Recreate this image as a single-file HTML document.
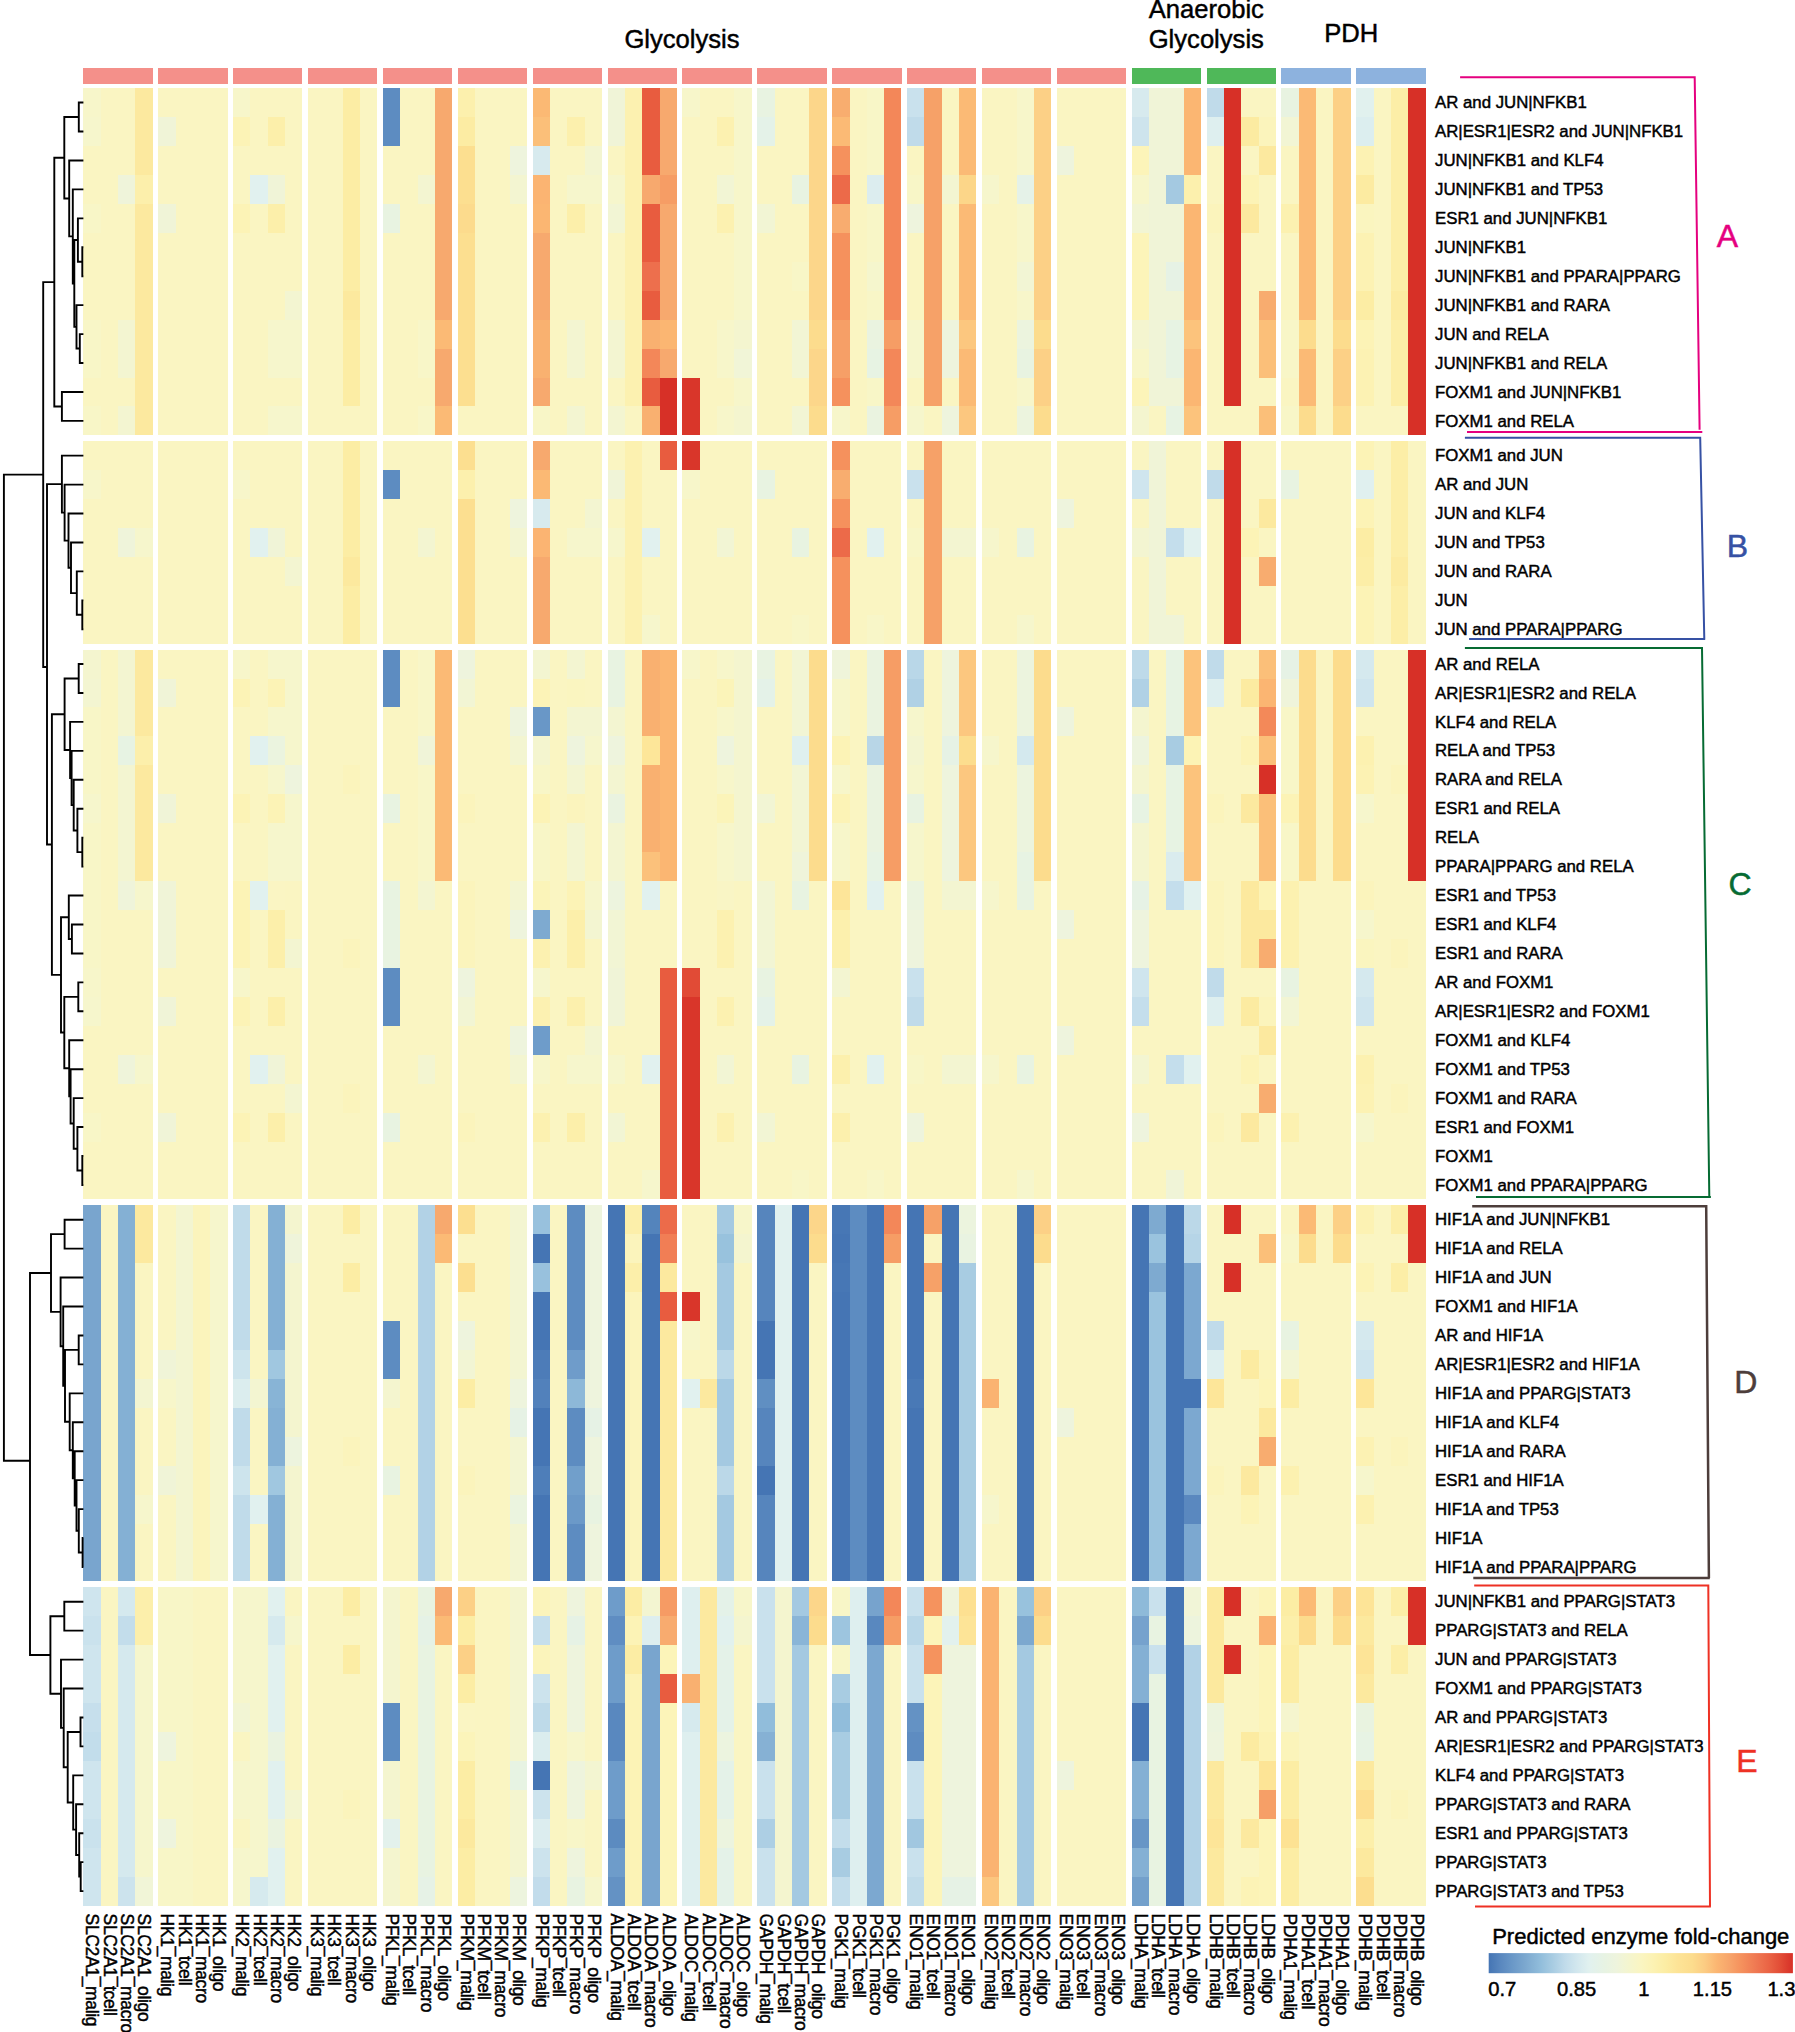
<!DOCTYPE html>
<html lang="en"><head><meta charset="utf-8"><title>Predicted enzyme fold-change heatmap</title>
<style>
html,body{margin:0;padding:0;background:#fff}
body{width:1795px;height:2032px;overflow:hidden}
svg{display:block;font-family:"Liberation Sans",Arial,Helvetica,sans-serif;fill:#000}
text{stroke:#000;stroke-width:0.45px;paint-order:stroke fill}
.cls text{stroke-width:0.5px}
.hm rect{shape-rendering:crispEdges}
.rl{font-size:16.8px}
.cl{font-size:17.5px;letter-spacing:-0.35px}
.tt{font-size:25.6px;text-anchor:middle}
.lg{font-size:20.2px}
.lt{font-size:22px}
.dg{fill:none;stroke:#000;stroke-width:1.9;stroke-linejoin:miter;stroke-linecap:butt}
.bk{fill:none;stroke-linejoin:miter}
.cls{font-size:32px;text-anchor:middle}
</style></head><body>
<svg width="1795" height="2032" viewBox="0 0 1795 2032">
<rect width="1795" height="2032" fill="#fff"/>
<text class="tt" x="682" y="47.6">Glycolysis</text>
<text class="tt" x="1206.3" y="17.8">Anaerobic</text>
<text class="tt" x="1206.3" y="47.9">Glycolysis</text>
<text class="tt" x="1351.3" y="42.3">PDH</text>
<g class="hm">
<rect x="83.4" y="68.4" width="69.3" height="15.4" fill="#f4908a"/>
<rect x="158.28" y="68.4" width="69.3" height="15.4" fill="#f4908a"/>
<rect x="233.16" y="68.4" width="69.3" height="15.4" fill="#f4908a"/>
<rect x="308.04" y="68.4" width="69.3" height="15.4" fill="#f4908a"/>
<rect x="382.92" y="68.4" width="69.3" height="15.4" fill="#f4908a"/>
<rect x="457.8" y="68.4" width="69.3" height="15.4" fill="#f4908a"/>
<rect x="532.68" y="68.4" width="69.3" height="15.4" fill="#f4908a"/>
<rect x="607.56" y="68.4" width="69.3" height="15.4" fill="#f4908a"/>
<rect x="682.44" y="68.4" width="69.3" height="15.4" fill="#f4908a"/>
<rect x="757.32" y="68.4" width="69.3" height="15.4" fill="#f4908a"/>
<rect x="832.2" y="68.4" width="69.3" height="15.4" fill="#f4908a"/>
<rect x="907.08" y="68.4" width="69.3" height="15.4" fill="#f4908a"/>
<rect x="981.96" y="68.4" width="69.3" height="15.4" fill="#f4908a"/>
<rect x="1056.84" y="68.4" width="69.3" height="15.4" fill="#f4908a"/>
<rect x="1131.72" y="68.4" width="69.3" height="15.4" fill="#4fb859"/>
<rect x="1206.6" y="68.4" width="69.3" height="15.4" fill="#4fb859"/>
<rect x="1281.48" y="68.4" width="69.3" height="15.4" fill="#8db2de"/>
<rect x="1356.36" y="68.4" width="69.3" height="15.4" fill="#8db2de"/>
<rect x="83.4" y="88.1" width="17.32" height="28.94" fill="#f7f6ca"/>
<rect x="83.4" y="117.04" width="17.32" height="28.94" fill="#f6f6cc"/>
<rect x="83.4" y="145.98" width="17.32" height="57.88" fill="#faf5c2"/>
<rect x="83.4" y="203.86" width="17.32" height="28.94" fill="#f8f6c7"/>
<rect x="83.4" y="232.8" width="17.32" height="86.82" fill="#faf5c2"/>
<rect x="83.4" y="319.62" width="17.32" height="57.88" fill="#f8f6c7"/>
<rect x="83.4" y="377.5" width="17.32" height="28.94" fill="#faf5c2"/>
<rect x="83.4" y="406.44" width="17.32" height="28.94" fill="#f8f6c7"/>
<rect x="100.73" y="88.1" width="17.32" height="347.28" fill="#faf5c2"/>
<rect x="118.05" y="88.1" width="17.32" height="86.82" fill="#faf5c2"/>
<rect x="118.05" y="174.92" width="17.32" height="28.94" fill="#eff4da"/>
<rect x="118.05" y="203.86" width="17.32" height="115.76" fill="#faf5c2"/>
<rect x="118.05" y="319.62" width="17.32" height="57.88" fill="#f3f5d1"/>
<rect x="118.05" y="377.5" width="17.32" height="28.94" fill="#faf5c2"/>
<rect x="118.05" y="406.44" width="17.32" height="28.94" fill="#f3f5d1"/>
<rect x="135.38" y="88.1" width="17.32" height="86.82" fill="#fce99f"/>
<rect x="135.38" y="174.92" width="17.32" height="28.94" fill="#fcefab"/>
<rect x="135.38" y="203.86" width="17.32" height="231.52" fill="#fce99f"/>
<rect x="158.28" y="88.1" width="17.32" height="28.94" fill="#faf5c2"/>
<rect x="158.28" y="117.04" width="17.32" height="28.94" fill="#f0f4d7"/>
<rect x="158.28" y="145.98" width="17.32" height="57.88" fill="#faf5c2"/>
<rect x="158.28" y="203.86" width="17.32" height="28.94" fill="#f0f4d7"/>
<rect x="158.28" y="232.8" width="17.32" height="202.58" fill="#faf5c2"/>
<rect x="175.6" y="88.1" width="17.32" height="347.28" fill="#faf5c2"/>
<rect x="192.93" y="88.1" width="17.32" height="347.28" fill="#faf5c2"/>
<rect x="210.25" y="88.1" width="17.32" height="347.28" fill="#faf5c2"/>
<rect x="233.16" y="88.1" width="17.32" height="28.94" fill="#f7f6ca"/>
<rect x="233.16" y="117.04" width="17.32" height="28.94" fill="#fcf3b6"/>
<rect x="233.16" y="145.98" width="17.32" height="57.88" fill="#faf5c2"/>
<rect x="233.16" y="203.86" width="17.32" height="28.94" fill="#fcf3b6"/>
<rect x="233.16" y="232.8" width="17.32" height="202.58" fill="#faf5c2"/>
<rect x="250.48" y="88.1" width="17.32" height="86.82" fill="#faf5c2"/>
<rect x="250.48" y="174.92" width="17.32" height="28.94" fill="#e1f1ef"/>
<rect x="250.48" y="203.86" width="17.32" height="231.52" fill="#faf5c2"/>
<rect x="267.81" y="88.1" width="17.32" height="28.94" fill="#faf5c2"/>
<rect x="267.81" y="117.04" width="17.32" height="28.94" fill="#fcefaa"/>
<rect x="267.81" y="145.98" width="17.32" height="28.94" fill="#faf5c2"/>
<rect x="267.81" y="174.92" width="17.32" height="28.94" fill="#f0f4d7"/>
<rect x="267.81" y="203.86" width="17.32" height="28.94" fill="#fcefaa"/>
<rect x="267.81" y="232.8" width="17.32" height="86.82" fill="#faf5c2"/>
<rect x="267.81" y="319.62" width="17.32" height="57.88" fill="#f6f6cc"/>
<rect x="267.81" y="377.5" width="17.32" height="28.94" fill="#faf5c2"/>
<rect x="267.81" y="406.44" width="17.32" height="28.94" fill="#f6f6cc"/>
<rect x="285.13" y="88.1" width="17.32" height="202.58" fill="#faf5c2"/>
<rect x="285.13" y="290.68" width="17.32" height="28.94" fill="#f3f5d1"/>
<rect x="285.13" y="319.62" width="17.32" height="57.88" fill="#f6f6cc"/>
<rect x="285.13" y="377.5" width="17.32" height="28.94" fill="#faf5c2"/>
<rect x="285.13" y="406.44" width="17.32" height="28.94" fill="#f6f6cc"/>
<rect x="308.04" y="88.1" width="17.32" height="347.28" fill="#faf5c2"/>
<rect x="325.36" y="88.1" width="17.32" height="347.28" fill="#faf5c2"/>
<rect x="342.69" y="88.1" width="17.32" height="202.58" fill="#fceda4"/>
<rect x="342.69" y="290.68" width="17.32" height="28.94" fill="#fce99e"/>
<rect x="342.69" y="319.62" width="17.32" height="86.82" fill="#fceda4"/>
<rect x="342.69" y="406.44" width="17.32" height="28.94" fill="#faf5c2"/>
<rect x="360.01" y="88.1" width="17.32" height="347.28" fill="#faf5c2"/>
<rect x="382.92" y="88.1" width="17.32" height="57.88" fill="#5d8cc1"/>
<rect x="382.92" y="145.98" width="17.32" height="57.88" fill="#faf5c2"/>
<rect x="382.92" y="203.86" width="17.32" height="28.94" fill="#e8f3e1"/>
<rect x="382.92" y="232.8" width="17.32" height="202.58" fill="#faf5c2"/>
<rect x="400.24" y="88.1" width="17.32" height="347.28" fill="#faf5c2"/>
<rect x="417.57" y="88.1" width="17.32" height="86.82" fill="#faf5c2"/>
<rect x="417.57" y="174.92" width="17.32" height="28.94" fill="#f3f5d1"/>
<rect x="417.57" y="203.86" width="17.32" height="115.76" fill="#faf5c2"/>
<rect x="417.57" y="319.62" width="17.32" height="57.88" fill="#f8f6c8"/>
<rect x="417.57" y="377.5" width="17.32" height="28.94" fill="#faf5c2"/>
<rect x="417.57" y="406.44" width="17.32" height="28.94" fill="#f8f6c8"/>
<rect x="434.89" y="88.1" width="17.32" height="231.52" fill="#f7a96e"/>
<rect x="434.89" y="319.62" width="17.32" height="28.94" fill="#fbba75"/>
<rect x="434.89" y="348.56" width="17.32" height="57.88" fill="#f7a96e"/>
<rect x="434.89" y="406.44" width="17.32" height="28.94" fill="#fbba75"/>
<rect x="457.8" y="88.1" width="17.32" height="28.94" fill="#fcf0ad"/>
<rect x="457.8" y="117.04" width="17.32" height="28.94" fill="#fceca3"/>
<rect x="457.8" y="145.98" width="17.32" height="57.88" fill="#fcdf90"/>
<rect x="457.8" y="203.86" width="17.32" height="28.94" fill="#fcdb8d"/>
<rect x="457.8" y="232.8" width="17.32" height="173.64" fill="#fcdf90"/>
<rect x="457.8" y="406.44" width="17.32" height="28.94" fill="#faf5c2"/>
<rect x="475.12" y="88.1" width="17.32" height="347.28" fill="#faf5c2"/>
<rect x="492.45" y="88.1" width="17.32" height="347.28" fill="#faf5c2"/>
<rect x="509.77" y="88.1" width="17.32" height="57.88" fill="#faf5c2"/>
<rect x="509.77" y="145.98" width="17.32" height="28.94" fill="#eef4dd"/>
<rect x="509.77" y="174.92" width="17.32" height="28.94" fill="#f3f5d1"/>
<rect x="509.77" y="203.86" width="17.32" height="231.52" fill="#faf5c2"/>
<rect x="532.68" y="88.1" width="17.32" height="28.94" fill="#fbb974"/>
<rect x="532.68" y="117.04" width="17.32" height="28.94" fill="#fbbf79"/>
<rect x="532.68" y="145.98" width="17.32" height="28.94" fill="#d7eaee"/>
<rect x="532.68" y="174.92" width="17.32" height="28.94" fill="#fbb472"/>
<rect x="532.68" y="203.86" width="17.32" height="28.94" fill="#fbb672"/>
<rect x="532.68" y="232.8" width="17.32" height="86.82" fill="#f7a96e"/>
<rect x="532.68" y="319.62" width="17.32" height="57.88" fill="#f9b170"/>
<rect x="532.68" y="377.5" width="17.32" height="28.94" fill="#f7a96e"/>
<rect x="532.68" y="406.44" width="17.32" height="28.94" fill="#f8f6c7"/>
<rect x="550" y="88.1" width="17.32" height="347.28" fill="#faf5c2"/>
<rect x="567.33" y="88.1" width="17.32" height="28.94" fill="#faf5c2"/>
<rect x="567.33" y="117.04" width="17.32" height="28.94" fill="#fcf0ad"/>
<rect x="567.33" y="145.98" width="17.32" height="28.94" fill="#faf5c2"/>
<rect x="567.33" y="174.92" width="17.32" height="28.94" fill="#f6f6cc"/>
<rect x="567.33" y="203.86" width="17.32" height="28.94" fill="#fcefaa"/>
<rect x="567.33" y="232.8" width="17.32" height="86.82" fill="#faf5c2"/>
<rect x="567.33" y="319.62" width="17.32" height="57.88" fill="#f3f5d1"/>
<rect x="567.33" y="377.5" width="17.32" height="28.94" fill="#faf5c2"/>
<rect x="567.33" y="406.44" width="17.32" height="28.94" fill="#f3f5d1"/>
<rect x="584.65" y="88.1" width="17.32" height="57.88" fill="#faf5c2"/>
<rect x="584.65" y="145.98" width="17.32" height="28.94" fill="#f3f5d1"/>
<rect x="584.65" y="174.92" width="17.32" height="28.94" fill="#f6f6cc"/>
<rect x="584.65" y="203.86" width="17.32" height="231.52" fill="#faf5c2"/>
<rect x="607.56" y="88.1" width="17.32" height="57.88" fill="#f0f4d7"/>
<rect x="607.56" y="145.98" width="17.32" height="28.94" fill="#faf5c2"/>
<rect x="607.56" y="174.92" width="17.32" height="28.94" fill="#f6f6cc"/>
<rect x="607.56" y="203.86" width="17.32" height="28.94" fill="#f2f5d4"/>
<rect x="607.56" y="232.8" width="17.32" height="86.82" fill="#faf5c2"/>
<rect x="607.56" y="319.62" width="17.32" height="57.88" fill="#f3f5d1"/>
<rect x="607.56" y="377.5" width="17.32" height="28.94" fill="#faf5c2"/>
<rect x="607.56" y="406.44" width="17.32" height="28.94" fill="#f3f5d1"/>
<rect x="624.88" y="88.1" width="17.32" height="318.34" fill="#fcf1b0"/>
<rect x="624.88" y="406.44" width="17.32" height="28.94" fill="#faf5c2"/>
<rect x="642.21" y="88.1" width="17.32" height="86.82" fill="#e85c3f"/>
<rect x="642.21" y="174.92" width="17.32" height="28.94" fill="#f7a96e"/>
<rect x="642.21" y="203.86" width="17.32" height="57.88" fill="#e85c3f"/>
<rect x="642.21" y="261.74" width="17.32" height="28.94" fill="#ed6f4d"/>
<rect x="642.21" y="290.68" width="17.32" height="28.94" fill="#e85c3f"/>
<rect x="642.21" y="319.62" width="17.32" height="28.94" fill="#f9b070"/>
<rect x="642.21" y="348.56" width="17.32" height="28.94" fill="#f38759"/>
<rect x="642.21" y="377.5" width="17.32" height="28.94" fill="#e85c3f"/>
<rect x="642.21" y="406.44" width="17.32" height="28.94" fill="#f9b070"/>
<rect x="659.53" y="88.1" width="17.32" height="86.82" fill="#f7a96e"/>
<rect x="659.53" y="174.92" width="17.32" height="28.94" fill="#f69d65"/>
<rect x="659.53" y="203.86" width="17.32" height="115.76" fill="#f7a96e"/>
<rect x="659.53" y="319.62" width="17.32" height="28.94" fill="#fbb672"/>
<rect x="659.53" y="348.56" width="17.32" height="28.94" fill="#f7a96e"/>
<rect x="659.53" y="377.5" width="17.32" height="57.88" fill="#d73027"/>
<rect x="682.44" y="88.1" width="17.32" height="28.94" fill="#f7f6ca"/>
<rect x="682.44" y="117.04" width="17.32" height="260.46" fill="#faf5c2"/>
<rect x="682.44" y="377.5" width="17.32" height="57.88" fill="#d9362a"/>
<rect x="699.76" y="88.1" width="17.32" height="347.28" fill="#faf5c2"/>
<rect x="717.09" y="88.1" width="17.32" height="28.94" fill="#faf5c2"/>
<rect x="717.09" y="117.04" width="17.32" height="28.94" fill="#fcf1b0"/>
<rect x="717.09" y="145.98" width="17.32" height="28.94" fill="#faf5c2"/>
<rect x="717.09" y="174.92" width="17.32" height="28.94" fill="#f2f5d4"/>
<rect x="717.09" y="203.86" width="17.32" height="28.94" fill="#fcf1b0"/>
<rect x="717.09" y="232.8" width="17.32" height="86.82" fill="#faf5c2"/>
<rect x="717.09" y="319.62" width="17.32" height="57.88" fill="#f7f6ca"/>
<rect x="717.09" y="377.5" width="17.32" height="28.94" fill="#faf5c2"/>
<rect x="717.09" y="406.44" width="17.32" height="28.94" fill="#f7f6ca"/>
<rect x="734.41" y="88.1" width="17.32" height="231.52" fill="#f7f6ca"/>
<rect x="734.41" y="319.62" width="17.32" height="28.94" fill="#f4f5cf"/>
<rect x="734.41" y="348.56" width="17.32" height="28.94" fill="#f1f5d7"/>
<rect x="734.41" y="377.5" width="17.32" height="28.94" fill="#f7f6ca"/>
<rect x="734.41" y="406.44" width="17.32" height="28.94" fill="#f4f5cf"/>
<rect x="757.32" y="88.1" width="17.32" height="28.94" fill="#e8f3e1"/>
<rect x="757.32" y="117.04" width="17.32" height="28.94" fill="#e4f2e8"/>
<rect x="757.32" y="145.98" width="17.32" height="57.88" fill="#faf5c2"/>
<rect x="757.32" y="203.86" width="17.32" height="28.94" fill="#f2f5d4"/>
<rect x="757.32" y="232.8" width="17.32" height="202.58" fill="#faf5c2"/>
<rect x="774.64" y="88.1" width="17.32" height="347.28" fill="#faf5c2"/>
<rect x="791.97" y="88.1" width="17.32" height="86.82" fill="#faf5c2"/>
<rect x="791.97" y="174.92" width="17.32" height="28.94" fill="#e8f3e1"/>
<rect x="791.97" y="203.86" width="17.32" height="57.88" fill="#faf5c2"/>
<rect x="791.97" y="261.74" width="17.32" height="28.94" fill="#f8f6c7"/>
<rect x="791.97" y="290.68" width="17.32" height="28.94" fill="#faf5c2"/>
<rect x="791.97" y="319.62" width="17.32" height="57.88" fill="#f2f5d4"/>
<rect x="791.97" y="377.5" width="17.32" height="28.94" fill="#faf5c2"/>
<rect x="791.97" y="406.44" width="17.32" height="28.94" fill="#f2f5d4"/>
<rect x="809.29" y="88.1" width="17.32" height="231.52" fill="#fcd68a"/>
<rect x="809.29" y="319.62" width="17.32" height="28.94" fill="#fcdc8d"/>
<rect x="809.29" y="348.56" width="17.32" height="57.88" fill="#fcd68a"/>
<rect x="809.29" y="406.44" width="17.32" height="28.94" fill="#fcdc8d"/>
<rect x="832.2" y="88.1" width="17.32" height="28.94" fill="#f8ad6f"/>
<rect x="832.2" y="117.04" width="17.32" height="28.94" fill="#fbba75"/>
<rect x="832.2" y="145.98" width="17.32" height="28.94" fill="#f5915d"/>
<rect x="832.2" y="174.92" width="17.32" height="28.94" fill="#ec6a49"/>
<rect x="832.2" y="203.86" width="17.32" height="28.94" fill="#f8ac6f"/>
<rect x="832.2" y="232.8" width="17.32" height="86.82" fill="#f5915d"/>
<rect x="832.2" y="319.62" width="17.32" height="57.88" fill="#f69f67"/>
<rect x="832.2" y="377.5" width="17.32" height="28.94" fill="#f5915d"/>
<rect x="832.2" y="406.44" width="17.32" height="28.94" fill="#f7f6ca"/>
<rect x="849.52" y="88.1" width="17.32" height="347.28" fill="#faf5c2"/>
<rect x="866.85" y="88.1" width="17.32" height="86.82" fill="#f8f6c7"/>
<rect x="866.85" y="174.92" width="17.32" height="28.94" fill="#dcedef"/>
<rect x="866.85" y="203.86" width="17.32" height="57.88" fill="#f8f6c7"/>
<rect x="866.85" y="261.74" width="17.32" height="28.94" fill="#f5f6cd"/>
<rect x="866.85" y="290.68" width="17.32" height="28.94" fill="#f8f6c7"/>
<rect x="866.85" y="319.62" width="17.32" height="28.94" fill="#eaf3e0"/>
<rect x="866.85" y="348.56" width="17.32" height="28.94" fill="#e7f3e3"/>
<rect x="866.85" y="377.5" width="17.32" height="28.94" fill="#f8f6c7"/>
<rect x="866.85" y="406.44" width="17.32" height="28.94" fill="#eaf3e0"/>
<rect x="884.17" y="88.1" width="17.32" height="231.52" fill="#f38759"/>
<rect x="884.17" y="319.62" width="17.32" height="28.94" fill="#f69d65"/>
<rect x="884.17" y="348.56" width="17.32" height="57.88" fill="#f38759"/>
<rect x="884.17" y="406.44" width="17.32" height="28.94" fill="#f69d65"/>
<rect x="907.08" y="88.1" width="17.32" height="28.94" fill="#c9e1ed"/>
<rect x="907.08" y="117.04" width="17.32" height="28.94" fill="#c0dbea"/>
<rect x="907.08" y="145.98" width="17.32" height="28.94" fill="#faf5c2"/>
<rect x="907.08" y="174.92" width="17.32" height="28.94" fill="#f8f6c7"/>
<rect x="907.08" y="203.86" width="17.32" height="28.94" fill="#eef4dd"/>
<rect x="907.08" y="232.8" width="17.32" height="86.82" fill="#faf5c2"/>
<rect x="907.08" y="319.62" width="17.32" height="57.88" fill="#f6f6cc"/>
<rect x="907.08" y="377.5" width="17.32" height="28.94" fill="#faf5c2"/>
<rect x="907.08" y="406.44" width="17.32" height="28.94" fill="#f6f6cc"/>
<rect x="924.4" y="88.1" width="17.32" height="318.34" fill="#f6a168"/>
<rect x="924.4" y="406.44" width="17.32" height="28.94" fill="#faf5c2"/>
<rect x="941.73" y="88.1" width="17.32" height="86.82" fill="#faf5c2"/>
<rect x="941.73" y="174.92" width="17.32" height="28.94" fill="#f3f5d1"/>
<rect x="941.73" y="203.86" width="17.32" height="115.76" fill="#faf5c2"/>
<rect x="941.73" y="319.62" width="17.32" height="57.88" fill="#eef4dd"/>
<rect x="941.73" y="377.5" width="17.32" height="28.94" fill="#faf5c2"/>
<rect x="941.73" y="406.44" width="17.32" height="28.94" fill="#eef4dd"/>
<rect x="959.05" y="88.1" width="17.32" height="86.82" fill="#fbba75"/>
<rect x="959.05" y="174.92" width="17.32" height="28.94" fill="#fcd689"/>
<rect x="959.05" y="203.86" width="17.32" height="115.76" fill="#fbba75"/>
<rect x="959.05" y="319.62" width="17.32" height="28.94" fill="#fcc77f"/>
<rect x="959.05" y="348.56" width="17.32" height="57.88" fill="#fbba75"/>
<rect x="959.05" y="406.44" width="17.32" height="28.94" fill="#fcc77f"/>
<rect x="981.96" y="88.1" width="17.32" height="86.82" fill="#faf5c2"/>
<rect x="981.96" y="174.92" width="17.32" height="28.94" fill="#f6f6cc"/>
<rect x="981.96" y="203.86" width="17.32" height="231.52" fill="#faf5c2"/>
<rect x="999.28" y="88.1" width="17.32" height="347.28" fill="#faf5c2"/>
<rect x="1016.61" y="88.1" width="17.32" height="86.82" fill="#f7f6ca"/>
<rect x="1016.61" y="174.92" width="17.32" height="28.94" fill="#e5f2e8"/>
<rect x="1016.61" y="203.86" width="17.32" height="57.88" fill="#f7f6ca"/>
<rect x="1016.61" y="261.74" width="17.32" height="28.94" fill="#f2f5d4"/>
<rect x="1016.61" y="290.68" width="17.32" height="28.94" fill="#f7f6ca"/>
<rect x="1016.61" y="319.62" width="17.32" height="28.94" fill="#ecf4de"/>
<rect x="1016.61" y="348.56" width="17.32" height="28.94" fill="#e8f3e1"/>
<rect x="1016.61" y="377.5" width="17.32" height="28.94" fill="#f7f6ca"/>
<rect x="1016.61" y="406.44" width="17.32" height="28.94" fill="#ecf4de"/>
<rect x="1033.93" y="88.1" width="17.32" height="231.52" fill="#fcd086"/>
<rect x="1033.93" y="319.62" width="17.32" height="28.94" fill="#fcdc8d"/>
<rect x="1033.93" y="348.56" width="17.32" height="57.88" fill="#fcd086"/>
<rect x="1033.93" y="406.44" width="17.32" height="28.94" fill="#fcdc8d"/>
<rect x="1056.84" y="88.1" width="17.32" height="57.88" fill="#faf5c2"/>
<rect x="1056.84" y="145.98" width="17.32" height="28.94" fill="#eef4dd"/>
<rect x="1056.84" y="174.92" width="17.32" height="260.46" fill="#faf5c2"/>
<rect x="1074.16" y="88.1" width="17.32" height="347.28" fill="#faf5c2"/>
<rect x="1091.49" y="88.1" width="17.32" height="347.28" fill="#faf5c2"/>
<rect x="1108.81" y="88.1" width="17.32" height="347.28" fill="#faf5c2"/>
<rect x="1131.72" y="88.1" width="17.32" height="28.94" fill="#d7eaee"/>
<rect x="1131.72" y="117.04" width="17.32" height="28.94" fill="#cee4ed"/>
<rect x="1131.72" y="145.98" width="17.32" height="28.94" fill="#fcf4b9"/>
<rect x="1131.72" y="174.92" width="17.32" height="28.94" fill="#f7f6ca"/>
<rect x="1131.72" y="203.86" width="17.32" height="28.94" fill="#f2f5d4"/>
<rect x="1131.72" y="232.8" width="17.32" height="86.82" fill="#fcf4b9"/>
<rect x="1131.72" y="319.62" width="17.32" height="28.94" fill="#f4f5cf"/>
<rect x="1131.72" y="348.56" width="17.32" height="28.94" fill="#f8f6c8"/>
<rect x="1131.72" y="377.5" width="17.32" height="28.94" fill="#fcf4b9"/>
<rect x="1131.72" y="406.44" width="17.32" height="28.94" fill="#f4f5cf"/>
<rect x="1149.05" y="88.1" width="17.32" height="318.34" fill="#f0f4d7"/>
<rect x="1149.05" y="406.44" width="17.32" height="28.94" fill="#faf5c2"/>
<rect x="1166.37" y="88.1" width="17.32" height="86.82" fill="#f0f4d7"/>
<rect x="1166.37" y="174.92" width="17.32" height="28.94" fill="#a4c9e1"/>
<rect x="1166.37" y="203.86" width="17.32" height="57.88" fill="#f0f4d7"/>
<rect x="1166.37" y="261.74" width="17.32" height="28.94" fill="#e6f2e5"/>
<rect x="1166.37" y="290.68" width="17.32" height="28.94" fill="#f0f4d7"/>
<rect x="1166.37" y="319.62" width="17.32" height="57.88" fill="#e7f3e3"/>
<rect x="1166.37" y="377.5" width="17.32" height="28.94" fill="#f0f4d7"/>
<rect x="1166.37" y="406.44" width="17.32" height="28.94" fill="#e7f3e3"/>
<rect x="1183.69" y="88.1" width="17.32" height="86.82" fill="#fbb672"/>
<rect x="1183.69" y="174.92" width="17.32" height="28.94" fill="#fcf0ad"/>
<rect x="1183.69" y="203.86" width="17.32" height="115.76" fill="#fbb672"/>
<rect x="1183.69" y="319.62" width="17.32" height="28.94" fill="#fcc37c"/>
<rect x="1183.69" y="348.56" width="17.32" height="57.88" fill="#fbb672"/>
<rect x="1183.69" y="406.44" width="17.32" height="28.94" fill="#fcc37c"/>
<rect x="1206.6" y="88.1" width="17.32" height="28.94" fill="#c0dbea"/>
<rect x="1206.6" y="117.04" width="17.32" height="28.94" fill="#deefef"/>
<rect x="1206.6" y="145.98" width="17.32" height="57.88" fill="#faf5c2"/>
<rect x="1206.6" y="203.86" width="17.32" height="28.94" fill="#fbf4bc"/>
<rect x="1206.6" y="232.8" width="17.32" height="202.58" fill="#faf5c2"/>
<rect x="1223.92" y="88.1" width="17.32" height="318.34" fill="#d73027"/>
<rect x="1223.92" y="406.44" width="17.32" height="28.94" fill="#faf5c2"/>
<rect x="1241.25" y="88.1" width="17.32" height="28.94" fill="#faf5c2"/>
<rect x="1241.25" y="117.04" width="17.32" height="28.94" fill="#fceba1"/>
<rect x="1241.25" y="145.98" width="17.32" height="28.94" fill="#faf5c2"/>
<rect x="1241.25" y="174.92" width="17.32" height="28.94" fill="#fcf3b6"/>
<rect x="1241.25" y="203.86" width="17.32" height="28.94" fill="#fce99f"/>
<rect x="1241.25" y="232.8" width="17.32" height="202.58" fill="#faf5c2"/>
<rect x="1258.57" y="88.1" width="17.32" height="28.94" fill="#faf5c2"/>
<rect x="1258.57" y="117.04" width="17.32" height="28.94" fill="#fbf4bc"/>
<rect x="1258.57" y="145.98" width="17.32" height="28.94" fill="#fce99f"/>
<rect x="1258.57" y="174.92" width="17.32" height="115.76" fill="#faf5c2"/>
<rect x="1258.57" y="290.68" width="17.32" height="28.94" fill="#f8ac6f"/>
<rect x="1258.57" y="319.62" width="17.32" height="57.88" fill="#fbbf79"/>
<rect x="1258.57" y="377.5" width="17.32" height="28.94" fill="#faf5c2"/>
<rect x="1258.57" y="406.44" width="17.32" height="28.94" fill="#fbbf79"/>
<rect x="1281.48" y="88.1" width="17.32" height="28.94" fill="#e8f3e1"/>
<rect x="1281.48" y="117.04" width="17.32" height="28.94" fill="#f2f5d4"/>
<rect x="1281.48" y="145.98" width="17.32" height="57.88" fill="#faf5c2"/>
<rect x="1281.48" y="203.86" width="17.32" height="28.94" fill="#fcf1b0"/>
<rect x="1281.48" y="232.8" width="17.32" height="86.82" fill="#faf5c2"/>
<rect x="1281.48" y="319.62" width="17.32" height="57.88" fill="#f8f6c7"/>
<rect x="1281.48" y="377.5" width="17.32" height="28.94" fill="#faf5c2"/>
<rect x="1281.48" y="406.44" width="17.32" height="28.94" fill="#f8f6c7"/>
<rect x="1298.81" y="88.1" width="17.32" height="231.52" fill="#fbba75"/>
<rect x="1298.81" y="319.62" width="17.32" height="28.94" fill="#fcdc8d"/>
<rect x="1298.81" y="348.56" width="17.32" height="57.88" fill="#fbba75"/>
<rect x="1298.81" y="406.44" width="17.32" height="28.94" fill="#fcdc8d"/>
<rect x="1316.13" y="88.1" width="17.32" height="347.28" fill="#faf5c2"/>
<rect x="1333.45" y="88.1" width="17.32" height="231.52" fill="#fcd086"/>
<rect x="1333.45" y="319.62" width="17.32" height="28.94" fill="#fcdc8d"/>
<rect x="1333.45" y="348.56" width="17.32" height="57.88" fill="#fcd086"/>
<rect x="1333.45" y="406.44" width="17.32" height="28.94" fill="#fcdc8d"/>
<rect x="1356.36" y="88.1" width="17.32" height="28.94" fill="#e1f1ee"/>
<rect x="1356.36" y="117.04" width="17.32" height="28.94" fill="#dceeef"/>
<rect x="1356.36" y="145.98" width="17.32" height="28.94" fill="#fcf2b3"/>
<rect x="1356.36" y="174.92" width="17.32" height="28.94" fill="#fceba1"/>
<rect x="1356.36" y="203.86" width="17.32" height="28.94" fill="#faf5bf"/>
<rect x="1356.36" y="232.8" width="17.32" height="57.88" fill="#fcf2b3"/>
<rect x="1356.36" y="290.68" width="17.32" height="28.94" fill="#fceda4"/>
<rect x="1356.36" y="319.62" width="17.32" height="28.94" fill="#fcf3b6"/>
<rect x="1356.36" y="348.56" width="17.32" height="57.88" fill="#fcf2b3"/>
<rect x="1356.36" y="406.44" width="17.32" height="28.94" fill="#faf5c2"/>
<rect x="1373.69" y="88.1" width="17.32" height="347.28" fill="#faf5c2"/>
<rect x="1391.01" y="88.1" width="17.32" height="202.58" fill="#fceea7"/>
<rect x="1391.01" y="290.68" width="17.32" height="28.94" fill="#fceba1"/>
<rect x="1391.01" y="319.62" width="17.32" height="86.82" fill="#fceea7"/>
<rect x="1391.01" y="406.44" width="17.32" height="28.94" fill="#faf5c2"/>
<rect x="1408.34" y="88.1" width="17.32" height="347.28" fill="#d73027"/>
<rect x="83.4" y="441.18" width="17.32" height="28.94" fill="#faf5c2"/>
<rect x="83.4" y="470.12" width="17.32" height="28.94" fill="#f7f6ca"/>
<rect x="83.4" y="499.06" width="17.32" height="144.7" fill="#faf5c2"/>
<rect x="100.73" y="441.18" width="17.32" height="202.58" fill="#faf5c2"/>
<rect x="118.05" y="441.18" width="17.32" height="86.82" fill="#faf5c2"/>
<rect x="118.05" y="528" width="17.32" height="28.94" fill="#eff4da"/>
<rect x="118.05" y="556.94" width="17.32" height="86.82" fill="#faf5c2"/>
<rect x="135.38" y="441.18" width="17.32" height="86.82" fill="#faf5c2"/>
<rect x="135.38" y="528" width="17.32" height="28.94" fill="#f6f6cc"/>
<rect x="135.38" y="556.94" width="17.32" height="86.82" fill="#faf5c2"/>
<rect x="158.28" y="441.18" width="17.32" height="202.58" fill="#faf5c2"/>
<rect x="175.6" y="441.18" width="17.32" height="202.58" fill="#faf5c2"/>
<rect x="192.93" y="441.18" width="17.32" height="202.58" fill="#faf5c2"/>
<rect x="210.25" y="441.18" width="17.32" height="202.58" fill="#faf5c2"/>
<rect x="233.16" y="441.18" width="17.32" height="28.94" fill="#faf5c2"/>
<rect x="233.16" y="470.12" width="17.32" height="28.94" fill="#f7f6ca"/>
<rect x="233.16" y="499.06" width="17.32" height="144.7" fill="#faf5c2"/>
<rect x="250.48" y="441.18" width="17.32" height="86.82" fill="#faf5c2"/>
<rect x="250.48" y="528" width="17.32" height="28.94" fill="#e1f1ef"/>
<rect x="250.48" y="556.94" width="17.32" height="86.82" fill="#faf5c2"/>
<rect x="267.81" y="441.18" width="17.32" height="86.82" fill="#faf5c2"/>
<rect x="267.81" y="528" width="17.32" height="28.94" fill="#f0f4d7"/>
<rect x="267.81" y="556.94" width="17.32" height="86.82" fill="#faf5c2"/>
<rect x="285.13" y="441.18" width="17.32" height="115.76" fill="#faf5c2"/>
<rect x="285.13" y="556.94" width="17.32" height="28.94" fill="#f3f5d1"/>
<rect x="285.13" y="585.88" width="17.32" height="57.88" fill="#faf5c2"/>
<rect x="308.04" y="441.18" width="17.32" height="202.58" fill="#faf5c2"/>
<rect x="325.36" y="441.18" width="17.32" height="202.58" fill="#faf5c2"/>
<rect x="342.69" y="441.18" width="17.32" height="115.76" fill="#fceda4"/>
<rect x="342.69" y="556.94" width="17.32" height="28.94" fill="#fce99e"/>
<rect x="342.69" y="585.88" width="17.32" height="57.88" fill="#fceda4"/>
<rect x="360.01" y="441.18" width="17.32" height="202.58" fill="#faf5c2"/>
<rect x="382.92" y="441.18" width="17.32" height="28.94" fill="#faf5c2"/>
<rect x="382.92" y="470.12" width="17.32" height="28.94" fill="#5d8cc1"/>
<rect x="382.92" y="499.06" width="17.32" height="144.7" fill="#faf5c2"/>
<rect x="400.24" y="441.18" width="17.32" height="202.58" fill="#faf5c2"/>
<rect x="417.57" y="441.18" width="17.32" height="86.82" fill="#faf5c2"/>
<rect x="417.57" y="528" width="17.32" height="28.94" fill="#f3f5d1"/>
<rect x="417.57" y="556.94" width="17.32" height="86.82" fill="#faf5c2"/>
<rect x="434.89" y="441.18" width="17.32" height="202.58" fill="#faf5c2"/>
<rect x="457.8" y="441.18" width="17.32" height="28.94" fill="#fcdf90"/>
<rect x="457.8" y="470.12" width="17.32" height="28.94" fill="#fcf0ad"/>
<rect x="457.8" y="499.06" width="17.32" height="144.7" fill="#fcdf90"/>
<rect x="475.12" y="441.18" width="17.32" height="202.58" fill="#faf5c2"/>
<rect x="492.45" y="441.18" width="17.32" height="202.58" fill="#faf5c2"/>
<rect x="509.77" y="441.18" width="17.32" height="57.88" fill="#faf5c2"/>
<rect x="509.77" y="499.06" width="17.32" height="28.94" fill="#eef4dd"/>
<rect x="509.77" y="528" width="17.32" height="28.94" fill="#f3f5d1"/>
<rect x="509.77" y="556.94" width="17.32" height="86.82" fill="#faf5c2"/>
<rect x="532.68" y="441.18" width="17.32" height="28.94" fill="#f7a96e"/>
<rect x="532.68" y="470.12" width="17.32" height="28.94" fill="#fbb974"/>
<rect x="532.68" y="499.06" width="17.32" height="28.94" fill="#d7eaee"/>
<rect x="532.68" y="528" width="17.32" height="28.94" fill="#fbb472"/>
<rect x="532.68" y="556.94" width="17.32" height="86.82" fill="#f7a96e"/>
<rect x="550" y="441.18" width="17.32" height="202.58" fill="#faf5c2"/>
<rect x="567.33" y="441.18" width="17.32" height="86.82" fill="#faf5c2"/>
<rect x="567.33" y="528" width="17.32" height="28.94" fill="#f6f6cc"/>
<rect x="567.33" y="556.94" width="17.32" height="86.82" fill="#faf5c2"/>
<rect x="584.65" y="441.18" width="17.32" height="57.88" fill="#faf5c2"/>
<rect x="584.65" y="499.06" width="17.32" height="28.94" fill="#f3f5d1"/>
<rect x="584.65" y="528" width="17.32" height="28.94" fill="#f6f6cc"/>
<rect x="584.65" y="556.94" width="17.32" height="86.82" fill="#faf5c2"/>
<rect x="607.56" y="441.18" width="17.32" height="28.94" fill="#faf5c2"/>
<rect x="607.56" y="470.12" width="17.32" height="28.94" fill="#f0f4d7"/>
<rect x="607.56" y="499.06" width="17.32" height="28.94" fill="#faf5c2"/>
<rect x="607.56" y="528" width="17.32" height="28.94" fill="#f6f6cc"/>
<rect x="607.56" y="556.94" width="17.32" height="86.82" fill="#faf5c2"/>
<rect x="624.88" y="441.18" width="17.32" height="202.58" fill="#fcf1b0"/>
<rect x="642.21" y="441.18" width="17.32" height="86.82" fill="#faf5c2"/>
<rect x="642.21" y="528" width="17.32" height="28.94" fill="#e1f1ef"/>
<rect x="642.21" y="556.94" width="17.32" height="57.88" fill="#faf5c2"/>
<rect x="642.21" y="614.82" width="17.32" height="28.94" fill="#f6f6cc"/>
<rect x="659.53" y="441.18" width="17.32" height="28.94" fill="#e85c3f"/>
<rect x="659.53" y="470.12" width="17.32" height="173.64" fill="#faf5c2"/>
<rect x="682.44" y="441.18" width="17.32" height="28.94" fill="#d9362a"/>
<rect x="682.44" y="470.12" width="17.32" height="28.94" fill="#f7f6ca"/>
<rect x="682.44" y="499.06" width="17.32" height="144.7" fill="#faf5c2"/>
<rect x="699.76" y="441.18" width="17.32" height="202.58" fill="#faf5c2"/>
<rect x="717.09" y="441.18" width="17.32" height="86.82" fill="#faf5c2"/>
<rect x="717.09" y="528" width="17.32" height="28.94" fill="#f2f5d4"/>
<rect x="717.09" y="556.94" width="17.32" height="86.82" fill="#faf5c2"/>
<rect x="734.41" y="441.18" width="17.32" height="202.58" fill="#faf5c2"/>
<rect x="757.32" y="441.18" width="17.32" height="28.94" fill="#faf5c2"/>
<rect x="757.32" y="470.12" width="17.32" height="28.94" fill="#e8f3e1"/>
<rect x="757.32" y="499.06" width="17.32" height="144.7" fill="#faf5c2"/>
<rect x="774.64" y="441.18" width="17.32" height="202.58" fill="#faf5c2"/>
<rect x="791.97" y="441.18" width="17.32" height="86.82" fill="#faf5c2"/>
<rect x="791.97" y="528" width="17.32" height="28.94" fill="#e8f3e1"/>
<rect x="791.97" y="556.94" width="17.32" height="57.88" fill="#faf5c2"/>
<rect x="791.97" y="614.82" width="17.32" height="28.94" fill="#f8f6c7"/>
<rect x="809.29" y="441.18" width="17.32" height="202.58" fill="#faf5c2"/>
<rect x="832.2" y="441.18" width="17.32" height="28.94" fill="#f5915d"/>
<rect x="832.2" y="470.12" width="17.32" height="28.94" fill="#f8ad6f"/>
<rect x="832.2" y="499.06" width="17.32" height="28.94" fill="#f5915d"/>
<rect x="832.2" y="528" width="17.32" height="28.94" fill="#ec6a49"/>
<rect x="832.2" y="556.94" width="17.32" height="86.82" fill="#f5915d"/>
<rect x="849.52" y="441.18" width="17.32" height="202.58" fill="#faf5c2"/>
<rect x="866.85" y="441.18" width="17.32" height="86.82" fill="#faf5c2"/>
<rect x="866.85" y="528" width="17.32" height="28.94" fill="#e1f1ef"/>
<rect x="866.85" y="556.94" width="17.32" height="57.88" fill="#faf5c2"/>
<rect x="866.85" y="614.82" width="17.32" height="28.94" fill="#f8f6c8"/>
<rect x="884.17" y="441.18" width="17.32" height="202.58" fill="#faf5c2"/>
<rect x="907.08" y="441.18" width="17.32" height="28.94" fill="#faf5c2"/>
<rect x="907.08" y="470.12" width="17.32" height="28.94" fill="#c9e1ed"/>
<rect x="907.08" y="499.06" width="17.32" height="28.94" fill="#faf5c2"/>
<rect x="907.08" y="528" width="17.32" height="28.94" fill="#f8f6c7"/>
<rect x="907.08" y="556.94" width="17.32" height="86.82" fill="#faf5c2"/>
<rect x="924.4" y="441.18" width="17.32" height="202.58" fill="#f6a168"/>
<rect x="941.73" y="441.18" width="17.32" height="86.82" fill="#faf5c2"/>
<rect x="941.73" y="528" width="17.32" height="28.94" fill="#f3f5d1"/>
<rect x="941.73" y="556.94" width="17.32" height="86.82" fill="#faf5c2"/>
<rect x="959.05" y="441.18" width="17.32" height="86.82" fill="#faf5c2"/>
<rect x="959.05" y="528" width="17.32" height="28.94" fill="#f3f5d1"/>
<rect x="959.05" y="556.94" width="17.32" height="86.82" fill="#faf5c2"/>
<rect x="981.96" y="441.18" width="17.32" height="86.82" fill="#faf5c2"/>
<rect x="981.96" y="528" width="17.32" height="28.94" fill="#f6f6cc"/>
<rect x="981.96" y="556.94" width="17.32" height="86.82" fill="#faf5c2"/>
<rect x="999.28" y="441.18" width="17.32" height="202.58" fill="#faf5c2"/>
<rect x="1016.61" y="441.18" width="17.32" height="86.82" fill="#faf5c2"/>
<rect x="1016.61" y="528" width="17.32" height="28.94" fill="#e8f3e1"/>
<rect x="1016.61" y="556.94" width="17.32" height="57.88" fill="#faf5c2"/>
<rect x="1016.61" y="614.82" width="17.32" height="28.94" fill="#f6f6cc"/>
<rect x="1033.93" y="441.18" width="17.32" height="202.58" fill="#faf5c2"/>
<rect x="1056.84" y="441.18" width="17.32" height="57.88" fill="#faf5c2"/>
<rect x="1056.84" y="499.06" width="17.32" height="28.94" fill="#eef4dd"/>
<rect x="1056.84" y="528" width="17.32" height="115.76" fill="#faf5c2"/>
<rect x="1074.16" y="441.18" width="17.32" height="202.58" fill="#faf5c2"/>
<rect x="1091.49" y="441.18" width="17.32" height="202.58" fill="#faf5c2"/>
<rect x="1108.81" y="441.18" width="17.32" height="202.58" fill="#faf5c2"/>
<rect x="1131.72" y="441.18" width="17.32" height="28.94" fill="#faf5c2"/>
<rect x="1131.72" y="470.12" width="17.32" height="28.94" fill="#cfe5ee"/>
<rect x="1131.72" y="499.06" width="17.32" height="28.94" fill="#faf5c2"/>
<rect x="1131.72" y="528" width="17.32" height="28.94" fill="#f3f5d1"/>
<rect x="1131.72" y="556.94" width="17.32" height="86.82" fill="#faf5c2"/>
<rect x="1149.05" y="441.18" width="17.32" height="202.58" fill="#f0f4d7"/>
<rect x="1166.37" y="441.18" width="17.32" height="86.82" fill="#faf5c2"/>
<rect x="1166.37" y="528" width="17.32" height="28.94" fill="#c4deec"/>
<rect x="1166.37" y="556.94" width="17.32" height="57.88" fill="#faf5c2"/>
<rect x="1166.37" y="614.82" width="17.32" height="28.94" fill="#f0f4d7"/>
<rect x="1183.69" y="441.18" width="17.32" height="86.82" fill="#faf5c2"/>
<rect x="1183.69" y="528" width="17.32" height="28.94" fill="#e1f1ef"/>
<rect x="1183.69" y="556.94" width="17.32" height="86.82" fill="#faf5c2"/>
<rect x="1206.6" y="441.18" width="17.32" height="28.94" fill="#faf5c2"/>
<rect x="1206.6" y="470.12" width="17.32" height="28.94" fill="#c0dbea"/>
<rect x="1206.6" y="499.06" width="17.32" height="144.7" fill="#faf5c2"/>
<rect x="1223.92" y="441.18" width="17.32" height="202.58" fill="#d73027"/>
<rect x="1241.25" y="441.18" width="17.32" height="86.82" fill="#faf5c2"/>
<rect x="1241.25" y="528" width="17.32" height="28.94" fill="#fcf3b6"/>
<rect x="1241.25" y="556.94" width="17.32" height="86.82" fill="#faf5c2"/>
<rect x="1258.57" y="441.18" width="17.32" height="57.88" fill="#faf5c2"/>
<rect x="1258.57" y="499.06" width="17.32" height="28.94" fill="#fce99f"/>
<rect x="1258.57" y="528" width="17.32" height="28.94" fill="#faf5c2"/>
<rect x="1258.57" y="556.94" width="17.32" height="28.94" fill="#f8ac6f"/>
<rect x="1258.57" y="585.88" width="17.32" height="57.88" fill="#faf5c2"/>
<rect x="1281.48" y="441.18" width="17.32" height="28.94" fill="#faf5c2"/>
<rect x="1281.48" y="470.12" width="17.32" height="28.94" fill="#e8f3e1"/>
<rect x="1281.48" y="499.06" width="17.32" height="144.7" fill="#faf5c2"/>
<rect x="1298.81" y="441.18" width="17.32" height="202.58" fill="#faf5c2"/>
<rect x="1316.13" y="441.18" width="17.32" height="202.58" fill="#faf5c2"/>
<rect x="1333.45" y="441.18" width="17.32" height="202.58" fill="#faf5c2"/>
<rect x="1356.36" y="441.18" width="17.32" height="28.94" fill="#fcf3b6"/>
<rect x="1356.36" y="470.12" width="17.32" height="28.94" fill="#e0f0ef"/>
<rect x="1356.36" y="499.06" width="17.32" height="28.94" fill="#fcf3b6"/>
<rect x="1356.36" y="528" width="17.32" height="28.94" fill="#fceda4"/>
<rect x="1356.36" y="556.94" width="17.32" height="28.94" fill="#fceea7"/>
<rect x="1356.36" y="585.88" width="17.32" height="57.88" fill="#fcf3b6"/>
<rect x="1373.69" y="441.18" width="17.32" height="202.58" fill="#faf5c2"/>
<rect x="1391.01" y="441.18" width="17.32" height="115.76" fill="#fceea7"/>
<rect x="1391.01" y="556.94" width="17.32" height="28.94" fill="#fceba1"/>
<rect x="1391.01" y="585.88" width="17.32" height="57.88" fill="#fceea7"/>
<rect x="1408.34" y="441.18" width="17.32" height="202.58" fill="#faf5c2"/>
<rect x="83.4" y="649.56" width="17.32" height="28.94" fill="#f4f5cf"/>
<rect x="83.4" y="678.5" width="17.32" height="28.94" fill="#f3f5d1"/>
<rect x="83.4" y="707.44" width="17.32" height="86.82" fill="#f8f6c7"/>
<rect x="83.4" y="794.26" width="17.32" height="28.94" fill="#f6f6cc"/>
<rect x="83.4" y="823.2" width="17.32" height="144.7" fill="#f8f6c7"/>
<rect x="83.4" y="967.9" width="17.32" height="28.94" fill="#f7f6ca"/>
<rect x="83.4" y="996.84" width="17.32" height="28.94" fill="#f6f6cc"/>
<rect x="83.4" y="1025.78" width="17.32" height="86.82" fill="#faf5c2"/>
<rect x="83.4" y="1112.6" width="17.32" height="28.94" fill="#f8f6c7"/>
<rect x="83.4" y="1141.54" width="17.32" height="57.88" fill="#faf5c2"/>
<rect x="100.73" y="649.56" width="17.32" height="549.86" fill="#faf5c2"/>
<rect x="118.05" y="649.56" width="17.32" height="86.82" fill="#f3f5d1"/>
<rect x="118.05" y="736.38" width="17.32" height="28.94" fill="#e7f3e3"/>
<rect x="118.05" y="765.32" width="17.32" height="115.76" fill="#f3f5d1"/>
<rect x="118.05" y="881.08" width="17.32" height="28.94" fill="#eff4da"/>
<rect x="118.05" y="910.02" width="17.32" height="144.7" fill="#faf5c2"/>
<rect x="118.05" y="1054.72" width="17.32" height="28.94" fill="#eff4da"/>
<rect x="118.05" y="1083.66" width="17.32" height="115.76" fill="#faf5c2"/>
<rect x="135.38" y="649.56" width="17.32" height="86.82" fill="#fce99f"/>
<rect x="135.38" y="736.38" width="17.32" height="28.94" fill="#fcefab"/>
<rect x="135.38" y="765.32" width="17.32" height="115.76" fill="#fce99f"/>
<rect x="135.38" y="881.08" width="17.32" height="28.94" fill="#f6f6cc"/>
<rect x="135.38" y="910.02" width="17.32" height="144.7" fill="#faf5c2"/>
<rect x="135.38" y="1054.72" width="17.32" height="28.94" fill="#f6f6cc"/>
<rect x="135.38" y="1083.66" width="17.32" height="115.76" fill="#faf5c2"/>
<rect x="158.28" y="649.56" width="17.32" height="28.94" fill="#faf5c2"/>
<rect x="158.28" y="678.5" width="17.32" height="28.94" fill="#f0f4d7"/>
<rect x="158.28" y="707.44" width="17.32" height="86.82" fill="#faf5c2"/>
<rect x="158.28" y="794.26" width="17.32" height="28.94" fill="#f0f4d7"/>
<rect x="158.28" y="823.2" width="17.32" height="57.88" fill="#faf5c2"/>
<rect x="158.28" y="881.08" width="17.32" height="86.82" fill="#f0f4d7"/>
<rect x="158.28" y="967.9" width="17.32" height="28.94" fill="#faf5c2"/>
<rect x="158.28" y="996.84" width="17.32" height="28.94" fill="#f0f4d7"/>
<rect x="158.28" y="1025.78" width="17.32" height="86.82" fill="#faf5c2"/>
<rect x="158.28" y="1112.6" width="17.32" height="28.94" fill="#f0f4d7"/>
<rect x="158.28" y="1141.54" width="17.32" height="57.88" fill="#faf5c2"/>
<rect x="175.6" y="649.56" width="17.32" height="549.86" fill="#faf5c2"/>
<rect x="192.93" y="649.56" width="17.32" height="549.86" fill="#faf5c2"/>
<rect x="210.25" y="649.56" width="17.32" height="549.86" fill="#faf5c2"/>
<rect x="233.16" y="649.56" width="17.32" height="28.94" fill="#f7f6ca"/>
<rect x="233.16" y="678.5" width="17.32" height="28.94" fill="#fcf3b6"/>
<rect x="233.16" y="707.44" width="17.32" height="86.82" fill="#faf5c2"/>
<rect x="233.16" y="794.26" width="17.32" height="28.94" fill="#fcf3b6"/>
<rect x="233.16" y="823.2" width="17.32" height="57.88" fill="#faf5c2"/>
<rect x="233.16" y="881.08" width="17.32" height="86.82" fill="#fcf3b6"/>
<rect x="233.16" y="967.9" width="17.32" height="28.94" fill="#f7f6ca"/>
<rect x="233.16" y="996.84" width="17.32" height="28.94" fill="#fcf3b6"/>
<rect x="233.16" y="1025.78" width="17.32" height="86.82" fill="#faf5c2"/>
<rect x="233.16" y="1112.6" width="17.32" height="28.94" fill="#fcf3b6"/>
<rect x="233.16" y="1141.54" width="17.32" height="57.88" fill="#faf5c2"/>
<rect x="250.48" y="649.56" width="17.32" height="86.82" fill="#faf5c2"/>
<rect x="250.48" y="736.38" width="17.32" height="28.94" fill="#e1f1ef"/>
<rect x="250.48" y="765.32" width="17.32" height="115.76" fill="#faf5c2"/>
<rect x="250.48" y="881.08" width="17.32" height="28.94" fill="#e1f1ef"/>
<rect x="250.48" y="910.02" width="17.32" height="144.7" fill="#faf5c2"/>
<rect x="250.48" y="1054.72" width="17.32" height="28.94" fill="#e1f1ef"/>
<rect x="250.48" y="1083.66" width="17.32" height="115.76" fill="#faf5c2"/>
<rect x="267.81" y="649.56" width="17.32" height="28.94" fill="#f6f6cc"/>
<rect x="267.81" y="678.5" width="17.32" height="28.94" fill="#fcf3b6"/>
<rect x="267.81" y="707.44" width="17.32" height="28.94" fill="#f6f6cc"/>
<rect x="267.81" y="736.38" width="17.32" height="28.94" fill="#ebf4df"/>
<rect x="267.81" y="765.32" width="17.32" height="28.94" fill="#f6f6cc"/>
<rect x="267.81" y="794.26" width="17.32" height="28.94" fill="#fcf3b6"/>
<rect x="267.81" y="823.2" width="17.32" height="57.88" fill="#f6f6cc"/>
<rect x="267.81" y="881.08" width="17.32" height="28.94" fill="#faf5c3"/>
<rect x="267.81" y="910.02" width="17.32" height="57.88" fill="#fcefaa"/>
<rect x="267.81" y="967.9" width="17.32" height="28.94" fill="#faf5c2"/>
<rect x="267.81" y="996.84" width="17.32" height="28.94" fill="#fcefaa"/>
<rect x="267.81" y="1025.78" width="17.32" height="28.94" fill="#faf5c2"/>
<rect x="267.81" y="1054.72" width="17.32" height="28.94" fill="#f0f4d7"/>
<rect x="267.81" y="1083.66" width="17.32" height="28.94" fill="#faf5c2"/>
<rect x="267.81" y="1112.6" width="17.32" height="28.94" fill="#fcefaa"/>
<rect x="267.81" y="1141.54" width="17.32" height="57.88" fill="#faf5c2"/>
<rect x="285.13" y="649.56" width="17.32" height="115.76" fill="#f6f6cc"/>
<rect x="285.13" y="765.32" width="17.32" height="28.94" fill="#eef4dd"/>
<rect x="285.13" y="794.26" width="17.32" height="86.82" fill="#f6f6cc"/>
<rect x="285.13" y="881.08" width="17.32" height="57.88" fill="#faf5c2"/>
<rect x="285.13" y="938.96" width="17.32" height="28.94" fill="#f3f5d1"/>
<rect x="285.13" y="967.9" width="17.32" height="115.76" fill="#faf5c2"/>
<rect x="285.13" y="1083.66" width="17.32" height="28.94" fill="#f3f5d1"/>
<rect x="285.13" y="1112.6" width="17.32" height="86.82" fill="#faf5c2"/>
<rect x="308.04" y="649.56" width="17.32" height="549.86" fill="#faf5c2"/>
<rect x="325.36" y="649.56" width="17.32" height="549.86" fill="#faf5c2"/>
<rect x="342.69" y="649.56" width="17.32" height="115.76" fill="#faf5c2"/>
<rect x="342.69" y="765.32" width="17.32" height="28.94" fill="#fbf4bc"/>
<rect x="342.69" y="794.26" width="17.32" height="144.7" fill="#faf5c2"/>
<rect x="342.69" y="938.96" width="17.32" height="28.94" fill="#fbf4bc"/>
<rect x="342.69" y="967.9" width="17.32" height="115.76" fill="#faf5c2"/>
<rect x="342.69" y="1083.66" width="17.32" height="28.94" fill="#fbf4bc"/>
<rect x="342.69" y="1112.6" width="17.32" height="86.82" fill="#faf5c2"/>
<rect x="360.01" y="649.56" width="17.32" height="549.86" fill="#faf5c2"/>
<rect x="382.92" y="649.56" width="17.32" height="57.88" fill="#5d8cc1"/>
<rect x="382.92" y="707.44" width="17.32" height="86.82" fill="#faf5c2"/>
<rect x="382.92" y="794.26" width="17.32" height="28.94" fill="#e8f3e1"/>
<rect x="382.92" y="823.2" width="17.32" height="57.88" fill="#faf5c2"/>
<rect x="382.92" y="881.08" width="17.32" height="86.82" fill="#e8f3e1"/>
<rect x="382.92" y="967.9" width="17.32" height="57.88" fill="#5d8cc1"/>
<rect x="382.92" y="1025.78" width="17.32" height="86.82" fill="#faf5c2"/>
<rect x="382.92" y="1112.6" width="17.32" height="28.94" fill="#e8f3e1"/>
<rect x="382.92" y="1141.54" width="17.32" height="57.88" fill="#faf5c2"/>
<rect x="400.24" y="649.56" width="17.32" height="549.86" fill="#faf5c2"/>
<rect x="417.57" y="649.56" width="17.32" height="86.82" fill="#f8f6c8"/>
<rect x="417.57" y="736.38" width="17.32" height="28.94" fill="#f0f4d8"/>
<rect x="417.57" y="765.32" width="17.32" height="115.76" fill="#f8f6c8"/>
<rect x="417.57" y="881.08" width="17.32" height="28.94" fill="#f3f5d1"/>
<rect x="417.57" y="910.02" width="17.32" height="144.7" fill="#faf5c2"/>
<rect x="417.57" y="1054.72" width="17.32" height="28.94" fill="#f3f5d1"/>
<rect x="417.57" y="1083.66" width="17.32" height="115.76" fill="#faf5c2"/>
<rect x="434.89" y="649.56" width="17.32" height="231.52" fill="#fbba75"/>
<rect x="434.89" y="881.08" width="17.32" height="318.34" fill="#faf5c2"/>
<rect x="457.8" y="649.56" width="17.32" height="28.94" fill="#eef4dd"/>
<rect x="457.8" y="678.5" width="17.32" height="28.94" fill="#f2f5d4"/>
<rect x="457.8" y="707.44" width="17.32" height="86.82" fill="#faf5c2"/>
<rect x="457.8" y="794.26" width="17.32" height="28.94" fill="#fbf4bc"/>
<rect x="457.8" y="823.2" width="17.32" height="57.88" fill="#faf5c2"/>
<rect x="457.8" y="881.08" width="17.32" height="86.82" fill="#fbf4bc"/>
<rect x="457.8" y="967.9" width="17.32" height="28.94" fill="#eef4dd"/>
<rect x="457.8" y="996.84" width="17.32" height="28.94" fill="#f2f5d4"/>
<rect x="457.8" y="1025.78" width="17.32" height="86.82" fill="#faf5c2"/>
<rect x="457.8" y="1112.6" width="17.32" height="28.94" fill="#fbf4bc"/>
<rect x="457.8" y="1141.54" width="17.32" height="57.88" fill="#faf5c2"/>
<rect x="475.12" y="649.56" width="17.32" height="549.86" fill="#faf5c2"/>
<rect x="492.45" y="649.56" width="17.32" height="549.86" fill="#faf5c2"/>
<rect x="509.77" y="649.56" width="17.32" height="57.88" fill="#faf5c2"/>
<rect x="509.77" y="707.44" width="17.32" height="28.94" fill="#eef4dd"/>
<rect x="509.77" y="736.38" width="17.32" height="28.94" fill="#f3f5d1"/>
<rect x="509.77" y="765.32" width="17.32" height="115.76" fill="#faf5c2"/>
<rect x="509.77" y="881.08" width="17.32" height="28.94" fill="#f3f5d1"/>
<rect x="509.77" y="910.02" width="17.32" height="28.94" fill="#eef4dd"/>
<rect x="509.77" y="938.96" width="17.32" height="86.82" fill="#faf5c2"/>
<rect x="509.77" y="1025.78" width="17.32" height="28.94" fill="#eef4dd"/>
<rect x="509.77" y="1054.72" width="17.32" height="28.94" fill="#f3f5d1"/>
<rect x="509.77" y="1083.66" width="17.32" height="115.76" fill="#faf5c2"/>
<rect x="532.68" y="649.56" width="17.32" height="28.94" fill="#f3f5d1"/>
<rect x="532.68" y="678.5" width="17.32" height="28.94" fill="#fcf3b7"/>
<rect x="532.68" y="707.44" width="17.32" height="28.94" fill="#6997c7"/>
<rect x="532.68" y="736.38" width="17.32" height="28.94" fill="#f4f5cf"/>
<rect x="532.68" y="765.32" width="17.32" height="28.94" fill="#f8f6c7"/>
<rect x="532.68" y="794.26" width="17.32" height="28.94" fill="#fcf3b6"/>
<rect x="532.68" y="823.2" width="17.32" height="57.88" fill="#f8f6c7"/>
<rect x="532.68" y="881.08" width="17.32" height="28.94" fill="#fbf4b9"/>
<rect x="532.68" y="910.02" width="17.32" height="28.94" fill="#7eaad0"/>
<rect x="532.68" y="938.96" width="17.32" height="28.94" fill="#fcf1b0"/>
<rect x="532.68" y="967.9" width="17.32" height="28.94" fill="#f6f6cc"/>
<rect x="532.68" y="996.84" width="17.32" height="28.94" fill="#fcf1b1"/>
<rect x="532.68" y="1025.78" width="17.32" height="28.94" fill="#6e9cca"/>
<rect x="532.68" y="1054.72" width="17.32" height="28.94" fill="#f7f6ca"/>
<rect x="532.68" y="1083.66" width="17.32" height="28.94" fill="#faf5c2"/>
<rect x="532.68" y="1112.6" width="17.32" height="28.94" fill="#fcf1b0"/>
<rect x="532.68" y="1141.54" width="17.32" height="57.88" fill="#faf5c2"/>
<rect x="550" y="649.56" width="17.32" height="549.86" fill="#faf5c2"/>
<rect x="567.33" y="649.56" width="17.32" height="28.94" fill="#f3f5d1"/>
<rect x="567.33" y="678.5" width="17.32" height="28.94" fill="#faf5c0"/>
<rect x="567.33" y="707.44" width="17.32" height="28.94" fill="#f3f5d1"/>
<rect x="567.33" y="736.38" width="17.32" height="28.94" fill="#eef4dd"/>
<rect x="567.33" y="765.32" width="17.32" height="28.94" fill="#f3f5d1"/>
<rect x="567.33" y="794.26" width="17.32" height="28.94" fill="#fbf4bd"/>
<rect x="567.33" y="823.2" width="17.32" height="57.88" fill="#f3f5d1"/>
<rect x="567.33" y="881.08" width="17.32" height="28.94" fill="#fcf3b6"/>
<rect x="567.33" y="910.02" width="17.32" height="57.88" fill="#fcefaa"/>
<rect x="567.33" y="967.9" width="17.32" height="28.94" fill="#faf5c2"/>
<rect x="567.33" y="996.84" width="17.32" height="28.94" fill="#fcf0ad"/>
<rect x="567.33" y="1025.78" width="17.32" height="28.94" fill="#faf5c2"/>
<rect x="567.33" y="1054.72" width="17.32" height="28.94" fill="#f6f6cc"/>
<rect x="567.33" y="1083.66" width="17.32" height="28.94" fill="#faf5c2"/>
<rect x="567.33" y="1112.6" width="17.32" height="28.94" fill="#fcefaa"/>
<rect x="567.33" y="1141.54" width="17.32" height="57.88" fill="#faf5c2"/>
<rect x="584.65" y="649.56" width="17.32" height="57.88" fill="#faf5c2"/>
<rect x="584.65" y="707.44" width="17.32" height="28.94" fill="#f3f5d1"/>
<rect x="584.65" y="736.38" width="17.32" height="28.94" fill="#f6f6cc"/>
<rect x="584.65" y="765.32" width="17.32" height="115.76" fill="#faf5c2"/>
<rect x="584.65" y="881.08" width="17.32" height="28.94" fill="#f6f6cc"/>
<rect x="584.65" y="910.02" width="17.32" height="28.94" fill="#f3f5d1"/>
<rect x="584.65" y="938.96" width="17.32" height="86.82" fill="#faf5c2"/>
<rect x="584.65" y="1025.78" width="17.32" height="28.94" fill="#f3f5d1"/>
<rect x="584.65" y="1054.72" width="17.32" height="28.94" fill="#f6f6cc"/>
<rect x="584.65" y="1083.66" width="17.32" height="115.76" fill="#faf5c2"/>
<rect x="607.56" y="649.56" width="17.32" height="57.88" fill="#e8f3e1"/>
<rect x="607.56" y="707.44" width="17.32" height="28.94" fill="#f3f5d1"/>
<rect x="607.56" y="736.38" width="17.32" height="28.94" fill="#eef4dd"/>
<rect x="607.56" y="765.32" width="17.32" height="28.94" fill="#f3f5d1"/>
<rect x="607.56" y="794.26" width="17.32" height="28.94" fill="#eaf3e0"/>
<rect x="607.56" y="823.2" width="17.32" height="57.88" fill="#f3f5d1"/>
<rect x="607.56" y="881.08" width="17.32" height="28.94" fill="#edf4de"/>
<rect x="607.56" y="910.02" width="17.32" height="57.88" fill="#f2f5d4"/>
<rect x="607.56" y="967.9" width="17.32" height="57.88" fill="#f0f4d7"/>
<rect x="607.56" y="1025.78" width="17.32" height="28.94" fill="#faf5c2"/>
<rect x="607.56" y="1054.72" width="17.32" height="28.94" fill="#f6f6cc"/>
<rect x="607.56" y="1083.66" width="17.32" height="28.94" fill="#faf5c2"/>
<rect x="607.56" y="1112.6" width="17.32" height="28.94" fill="#f2f5d4"/>
<rect x="607.56" y="1141.54" width="17.32" height="57.88" fill="#faf5c2"/>
<rect x="624.88" y="649.56" width="17.32" height="549.86" fill="#faf5c2"/>
<rect x="642.21" y="649.56" width="17.32" height="86.82" fill="#f9b070"/>
<rect x="642.21" y="736.38" width="17.32" height="28.94" fill="#fde699"/>
<rect x="642.21" y="765.32" width="17.32" height="86.82" fill="#f9b070"/>
<rect x="642.21" y="852.14" width="17.32" height="28.94" fill="#fbc17b"/>
<rect x="642.21" y="881.08" width="17.32" height="28.94" fill="#e1f1ef"/>
<rect x="642.21" y="910.02" width="17.32" height="144.7" fill="#faf5c2"/>
<rect x="642.21" y="1054.72" width="17.32" height="28.94" fill="#e1f1ef"/>
<rect x="642.21" y="1083.66" width="17.32" height="86.82" fill="#faf5c2"/>
<rect x="642.21" y="1170.48" width="17.32" height="28.94" fill="#f6f6cc"/>
<rect x="659.53" y="649.56" width="17.32" height="231.52" fill="#fbb672"/>
<rect x="659.53" y="881.08" width="17.32" height="86.82" fill="#faf5c2"/>
<rect x="659.53" y="967.9" width="17.32" height="231.52" fill="#e85c3f"/>
<rect x="682.44" y="649.56" width="17.32" height="28.94" fill="#f7f6ca"/>
<rect x="682.44" y="678.5" width="17.32" height="289.4" fill="#faf5c2"/>
<rect x="682.44" y="967.9" width="17.32" height="28.94" fill="#e14b36"/>
<rect x="682.44" y="996.84" width="17.32" height="202.58" fill="#d9362a"/>
<rect x="699.76" y="649.56" width="17.32" height="549.86" fill="#faf5c2"/>
<rect x="717.09" y="649.56" width="17.32" height="28.94" fill="#f7f6ca"/>
<rect x="717.09" y="678.5" width="17.32" height="28.94" fill="#fbf4b9"/>
<rect x="717.09" y="707.44" width="17.32" height="28.94" fill="#f7f6ca"/>
<rect x="717.09" y="736.38" width="17.32" height="28.94" fill="#eef4dd"/>
<rect x="717.09" y="765.32" width="17.32" height="28.94" fill="#f7f6ca"/>
<rect x="717.09" y="794.26" width="17.32" height="28.94" fill="#fbf4b9"/>
<rect x="717.09" y="823.2" width="17.32" height="57.88" fill="#f7f6ca"/>
<rect x="717.09" y="881.08" width="17.32" height="28.94" fill="#f9f5c5"/>
<rect x="717.09" y="910.02" width="17.32" height="57.88" fill="#fcf1b0"/>
<rect x="717.09" y="967.9" width="17.32" height="28.94" fill="#faf5c2"/>
<rect x="717.09" y="996.84" width="17.32" height="28.94" fill="#fcf1b0"/>
<rect x="717.09" y="1025.78" width="17.32" height="28.94" fill="#faf5c2"/>
<rect x="717.09" y="1054.72" width="17.32" height="28.94" fill="#f2f5d4"/>
<rect x="717.09" y="1083.66" width="17.32" height="28.94" fill="#faf5c2"/>
<rect x="717.09" y="1112.6" width="17.32" height="28.94" fill="#fcf1b0"/>
<rect x="717.09" y="1141.54" width="17.32" height="57.88" fill="#faf5c2"/>
<rect x="734.41" y="649.56" width="17.32" height="231.52" fill="#f4f5cf"/>
<rect x="734.41" y="881.08" width="17.32" height="318.34" fill="#faf5c2"/>
<rect x="757.32" y="649.56" width="17.32" height="28.94" fill="#e8f3e1"/>
<rect x="757.32" y="678.5" width="17.32" height="28.94" fill="#e4f2e8"/>
<rect x="757.32" y="707.44" width="17.32" height="86.82" fill="#faf5c2"/>
<rect x="757.32" y="794.26" width="17.32" height="28.94" fill="#f2f5d4"/>
<rect x="757.32" y="823.2" width="17.32" height="57.88" fill="#faf5c2"/>
<rect x="757.32" y="881.08" width="17.32" height="86.82" fill="#f2f5d4"/>
<rect x="757.32" y="967.9" width="17.32" height="28.94" fill="#e8f3e1"/>
<rect x="757.32" y="996.84" width="17.32" height="28.94" fill="#e4f2e8"/>
<rect x="757.32" y="1025.78" width="17.32" height="86.82" fill="#faf5c2"/>
<rect x="757.32" y="1112.6" width="17.32" height="28.94" fill="#f2f5d4"/>
<rect x="757.32" y="1141.54" width="17.32" height="57.88" fill="#faf5c2"/>
<rect x="774.64" y="649.56" width="17.32" height="549.86" fill="#faf5c2"/>
<rect x="791.97" y="649.56" width="17.32" height="86.82" fill="#f2f5d4"/>
<rect x="791.97" y="736.38" width="17.32" height="28.94" fill="#dff0ef"/>
<rect x="791.97" y="765.32" width="17.32" height="86.82" fill="#f2f5d4"/>
<rect x="791.97" y="852.14" width="17.32" height="28.94" fill="#eff4da"/>
<rect x="791.97" y="881.08" width="17.32" height="28.94" fill="#e8f3e1"/>
<rect x="791.97" y="910.02" width="17.32" height="144.7" fill="#faf5c2"/>
<rect x="791.97" y="1054.72" width="17.32" height="28.94" fill="#e8f3e1"/>
<rect x="791.97" y="1083.66" width="17.32" height="86.82" fill="#faf5c2"/>
<rect x="791.97" y="1170.48" width="17.32" height="28.94" fill="#f8f6c7"/>
<rect x="809.29" y="649.56" width="17.32" height="231.52" fill="#fcdc8d"/>
<rect x="809.29" y="881.08" width="17.32" height="318.34" fill="#faf5c2"/>
<rect x="832.2" y="649.56" width="17.32" height="28.94" fill="#eff4da"/>
<rect x="832.2" y="678.5" width="17.32" height="57.88" fill="#f7f6ca"/>
<rect x="832.2" y="736.38" width="17.32" height="28.94" fill="#fcf3b6"/>
<rect x="832.2" y="765.32" width="17.32" height="28.94" fill="#f7f6ca"/>
<rect x="832.2" y="794.26" width="17.32" height="28.94" fill="#fcf3b6"/>
<rect x="832.2" y="823.2" width="17.32" height="57.88" fill="#f7f6ca"/>
<rect x="832.2" y="881.08" width="17.32" height="28.94" fill="#fde599"/>
<rect x="832.2" y="910.02" width="17.32" height="57.88" fill="#fcf0ad"/>
<rect x="832.2" y="967.9" width="17.32" height="28.94" fill="#f3f5d1"/>
<rect x="832.2" y="996.84" width="17.32" height="57.88" fill="#faf5c2"/>
<rect x="832.2" y="1054.72" width="17.32" height="28.94" fill="#fcf0ad"/>
<rect x="832.2" y="1083.66" width="17.32" height="28.94" fill="#faf5c2"/>
<rect x="832.2" y="1112.6" width="17.32" height="28.94" fill="#fcf0ad"/>
<rect x="832.2" y="1141.54" width="17.32" height="57.88" fill="#faf5c2"/>
<rect x="849.52" y="649.56" width="17.32" height="549.86" fill="#faf5c2"/>
<rect x="866.85" y="649.56" width="17.32" height="86.82" fill="#eaf3e0"/>
<rect x="866.85" y="736.38" width="17.32" height="28.94" fill="#b8d6e7"/>
<rect x="866.85" y="765.32" width="17.32" height="86.82" fill="#eaf3e0"/>
<rect x="866.85" y="852.14" width="17.32" height="28.94" fill="#e7f3e4"/>
<rect x="866.85" y="881.08" width="17.32" height="28.94" fill="#e1f1ef"/>
<rect x="866.85" y="910.02" width="17.32" height="144.7" fill="#faf5c2"/>
<rect x="866.85" y="1054.72" width="17.32" height="28.94" fill="#e1f1ef"/>
<rect x="866.85" y="1083.66" width="17.32" height="86.82" fill="#faf5c2"/>
<rect x="866.85" y="1170.48" width="17.32" height="28.94" fill="#f8f6c8"/>
<rect x="884.17" y="649.56" width="17.32" height="231.52" fill="#f69d65"/>
<rect x="884.17" y="881.08" width="17.32" height="318.34" fill="#faf5c2"/>
<rect x="907.08" y="649.56" width="17.32" height="28.94" fill="#b9d7e8"/>
<rect x="907.08" y="678.5" width="17.32" height="28.94" fill="#b0d1e5"/>
<rect x="907.08" y="707.44" width="17.32" height="28.94" fill="#f6f6cc"/>
<rect x="907.08" y="736.38" width="17.32" height="28.94" fill="#f3f5d1"/>
<rect x="907.08" y="765.32" width="17.32" height="28.94" fill="#f6f6cc"/>
<rect x="907.08" y="794.26" width="17.32" height="28.94" fill="#e8f3e1"/>
<rect x="907.08" y="823.2" width="17.32" height="57.88" fill="#f6f6cc"/>
<rect x="907.08" y="881.08" width="17.32" height="28.94" fill="#ebf4df"/>
<rect x="907.08" y="910.02" width="17.32" height="57.88" fill="#eef4dd"/>
<rect x="907.08" y="967.9" width="17.32" height="28.94" fill="#c9e1ed"/>
<rect x="907.08" y="996.84" width="17.32" height="28.94" fill="#c0dbea"/>
<rect x="907.08" y="1025.78" width="17.32" height="28.94" fill="#faf5c2"/>
<rect x="907.08" y="1054.72" width="17.32" height="28.94" fill="#f8f6c7"/>
<rect x="907.08" y="1083.66" width="17.32" height="28.94" fill="#faf5c2"/>
<rect x="907.08" y="1112.6" width="17.32" height="28.94" fill="#eef4dd"/>
<rect x="907.08" y="1141.54" width="17.32" height="57.88" fill="#faf5c2"/>
<rect x="924.4" y="649.56" width="17.32" height="549.86" fill="#faf5c2"/>
<rect x="941.73" y="649.56" width="17.32" height="86.82" fill="#eef4dd"/>
<rect x="941.73" y="736.38" width="17.32" height="28.94" fill="#e6f2e5"/>
<rect x="941.73" y="765.32" width="17.32" height="115.76" fill="#eef4dd"/>
<rect x="941.73" y="881.08" width="17.32" height="28.94" fill="#f3f5d1"/>
<rect x="941.73" y="910.02" width="17.32" height="144.7" fill="#faf5c2"/>
<rect x="941.73" y="1054.72" width="17.32" height="28.94" fill="#f3f5d1"/>
<rect x="941.73" y="1083.66" width="17.32" height="115.76" fill="#faf5c2"/>
<rect x="959.05" y="649.56" width="17.32" height="86.82" fill="#fcc77f"/>
<rect x="959.05" y="736.38" width="17.32" height="28.94" fill="#fcdd8e"/>
<rect x="959.05" y="765.32" width="17.32" height="115.76" fill="#fcc77f"/>
<rect x="959.05" y="881.08" width="17.32" height="28.94" fill="#f3f5d1"/>
<rect x="959.05" y="910.02" width="17.32" height="144.7" fill="#faf5c2"/>
<rect x="959.05" y="1054.72" width="17.32" height="28.94" fill="#f3f5d1"/>
<rect x="959.05" y="1083.66" width="17.32" height="115.76" fill="#faf5c2"/>
<rect x="981.96" y="649.56" width="17.32" height="86.82" fill="#faf5c2"/>
<rect x="981.96" y="736.38" width="17.32" height="28.94" fill="#f6f6cc"/>
<rect x="981.96" y="765.32" width="17.32" height="115.76" fill="#faf5c2"/>
<rect x="981.96" y="881.08" width="17.32" height="28.94" fill="#f6f6cc"/>
<rect x="981.96" y="910.02" width="17.32" height="144.7" fill="#faf5c2"/>
<rect x="981.96" y="1054.72" width="17.32" height="28.94" fill="#f6f6cc"/>
<rect x="981.96" y="1083.66" width="17.32" height="115.76" fill="#faf5c2"/>
<rect x="999.28" y="649.56" width="17.32" height="549.86" fill="#faf5c2"/>
<rect x="1016.61" y="649.56" width="17.32" height="86.82" fill="#ecf4de"/>
<rect x="1016.61" y="736.38" width="17.32" height="28.94" fill="#d4e9ee"/>
<rect x="1016.61" y="765.32" width="17.32" height="86.82" fill="#ecf4de"/>
<rect x="1016.61" y="852.14" width="17.32" height="28.94" fill="#e7f3e3"/>
<rect x="1016.61" y="881.08" width="17.32" height="28.94" fill="#e8f3e1"/>
<rect x="1016.61" y="910.02" width="17.32" height="144.7" fill="#faf5c2"/>
<rect x="1016.61" y="1054.72" width="17.32" height="28.94" fill="#e8f3e1"/>
<rect x="1016.61" y="1083.66" width="17.32" height="86.82" fill="#faf5c2"/>
<rect x="1016.61" y="1170.48" width="17.32" height="28.94" fill="#f6f6cc"/>
<rect x="1033.93" y="649.56" width="17.32" height="231.52" fill="#fcdc8d"/>
<rect x="1033.93" y="881.08" width="17.32" height="318.34" fill="#faf5c2"/>
<rect x="1056.84" y="649.56" width="17.32" height="57.88" fill="#faf5c2"/>
<rect x="1056.84" y="707.44" width="17.32" height="28.94" fill="#eef4dd"/>
<rect x="1056.84" y="736.38" width="17.32" height="173.64" fill="#faf5c2"/>
<rect x="1056.84" y="910.02" width="17.32" height="28.94" fill="#eef4dd"/>
<rect x="1056.84" y="938.96" width="17.32" height="86.82" fill="#faf5c2"/>
<rect x="1056.84" y="1025.78" width="17.32" height="28.94" fill="#eef4dd"/>
<rect x="1056.84" y="1054.72" width="17.32" height="144.7" fill="#faf5c2"/>
<rect x="1074.16" y="649.56" width="17.32" height="549.86" fill="#faf5c2"/>
<rect x="1091.49" y="649.56" width="17.32" height="549.86" fill="#faf5c2"/>
<rect x="1108.81" y="649.56" width="17.32" height="549.86" fill="#faf5c2"/>
<rect x="1131.72" y="649.56" width="17.32" height="28.94" fill="#bedae9"/>
<rect x="1131.72" y="678.5" width="17.32" height="28.94" fill="#b0d1e5"/>
<rect x="1131.72" y="707.44" width="17.32" height="28.94" fill="#f4f5cf"/>
<rect x="1131.72" y="736.38" width="17.32" height="28.94" fill="#edf4de"/>
<rect x="1131.72" y="765.32" width="17.32" height="28.94" fill="#f4f5cf"/>
<rect x="1131.72" y="794.26" width="17.32" height="28.94" fill="#e7f3e3"/>
<rect x="1131.72" y="823.2" width="17.32" height="57.88" fill="#f4f5cf"/>
<rect x="1131.72" y="881.08" width="17.32" height="28.94" fill="#e6f2e5"/>
<rect x="1131.72" y="910.02" width="17.32" height="57.88" fill="#eef4dd"/>
<rect x="1131.72" y="967.9" width="17.32" height="28.94" fill="#cfe5ee"/>
<rect x="1131.72" y="996.84" width="17.32" height="28.94" fill="#c4deec"/>
<rect x="1131.72" y="1025.78" width="17.32" height="28.94" fill="#faf5c2"/>
<rect x="1131.72" y="1054.72" width="17.32" height="28.94" fill="#f3f5d1"/>
<rect x="1131.72" y="1083.66" width="17.32" height="28.94" fill="#faf5c2"/>
<rect x="1131.72" y="1112.6" width="17.32" height="28.94" fill="#eef4dd"/>
<rect x="1131.72" y="1141.54" width="17.32" height="57.88" fill="#faf5c2"/>
<rect x="1149.05" y="649.56" width="17.32" height="549.86" fill="#faf5c2"/>
<rect x="1166.37" y="649.56" width="17.32" height="86.82" fill="#e7f3e3"/>
<rect x="1166.37" y="736.38" width="17.32" height="28.94" fill="#a8cce2"/>
<rect x="1166.37" y="765.32" width="17.32" height="86.82" fill="#e7f3e3"/>
<rect x="1166.37" y="852.14" width="17.32" height="28.94" fill="#daecee"/>
<rect x="1166.37" y="881.08" width="17.32" height="28.94" fill="#c4deec"/>
<rect x="1166.37" y="910.02" width="17.32" height="144.7" fill="#faf5c2"/>
<rect x="1166.37" y="1054.72" width="17.32" height="28.94" fill="#c4deec"/>
<rect x="1166.37" y="1083.66" width="17.32" height="86.82" fill="#faf5c2"/>
<rect x="1166.37" y="1170.48" width="17.32" height="28.94" fill="#f0f4d7"/>
<rect x="1183.69" y="649.56" width="17.32" height="86.82" fill="#fcc37c"/>
<rect x="1183.69" y="736.38" width="17.32" height="28.94" fill="#fcf3b5"/>
<rect x="1183.69" y="765.32" width="17.32" height="115.76" fill="#fcc37c"/>
<rect x="1183.69" y="881.08" width="17.32" height="28.94" fill="#e1f1ef"/>
<rect x="1183.69" y="910.02" width="17.32" height="144.7" fill="#faf5c2"/>
<rect x="1183.69" y="1054.72" width="17.32" height="28.94" fill="#e1f1ef"/>
<rect x="1183.69" y="1083.66" width="17.32" height="115.76" fill="#faf5c2"/>
<rect x="1206.6" y="649.56" width="17.32" height="28.94" fill="#c0dbea"/>
<rect x="1206.6" y="678.5" width="17.32" height="28.94" fill="#deefef"/>
<rect x="1206.6" y="707.44" width="17.32" height="86.82" fill="#faf5c2"/>
<rect x="1206.6" y="794.26" width="17.32" height="28.94" fill="#fbf4bc"/>
<rect x="1206.6" y="823.2" width="17.32" height="57.88" fill="#faf5c2"/>
<rect x="1206.6" y="881.08" width="17.32" height="86.82" fill="#fbf4bc"/>
<rect x="1206.6" y="967.9" width="17.32" height="28.94" fill="#c0dbea"/>
<rect x="1206.6" y="996.84" width="17.32" height="28.94" fill="#deefef"/>
<rect x="1206.6" y="1025.78" width="17.32" height="86.82" fill="#faf5c2"/>
<rect x="1206.6" y="1112.6" width="17.32" height="28.94" fill="#fbf4bc"/>
<rect x="1206.6" y="1141.54" width="17.32" height="57.88" fill="#faf5c2"/>
<rect x="1223.92" y="649.56" width="17.32" height="549.86" fill="#faf5c2"/>
<rect x="1241.25" y="649.56" width="17.32" height="28.94" fill="#faf5c2"/>
<rect x="1241.25" y="678.5" width="17.32" height="28.94" fill="#fceba1"/>
<rect x="1241.25" y="707.44" width="17.32" height="28.94" fill="#faf5c2"/>
<rect x="1241.25" y="736.38" width="17.32" height="28.94" fill="#fcf3b6"/>
<rect x="1241.25" y="765.32" width="17.32" height="28.94" fill="#faf5c2"/>
<rect x="1241.25" y="794.26" width="17.32" height="28.94" fill="#fce99f"/>
<rect x="1241.25" y="823.2" width="17.32" height="57.88" fill="#faf5c2"/>
<rect x="1241.25" y="881.08" width="17.32" height="28.94" fill="#fce99e"/>
<rect x="1241.25" y="910.02" width="17.32" height="57.88" fill="#fce99f"/>
<rect x="1241.25" y="967.9" width="17.32" height="28.94" fill="#faf5c2"/>
<rect x="1241.25" y="996.84" width="17.32" height="28.94" fill="#fceba1"/>
<rect x="1241.25" y="1025.78" width="17.32" height="28.94" fill="#faf5c2"/>
<rect x="1241.25" y="1054.72" width="17.32" height="28.94" fill="#fcf3b6"/>
<rect x="1241.25" y="1083.66" width="17.32" height="28.94" fill="#faf5c2"/>
<rect x="1241.25" y="1112.6" width="17.32" height="28.94" fill="#fce99f"/>
<rect x="1241.25" y="1141.54" width="17.32" height="57.88" fill="#faf5c2"/>
<rect x="1258.57" y="649.56" width="17.32" height="28.94" fill="#fbbf79"/>
<rect x="1258.57" y="678.5" width="17.32" height="28.94" fill="#fbb572"/>
<rect x="1258.57" y="707.44" width="17.32" height="28.94" fill="#f38959"/>
<rect x="1258.57" y="736.38" width="17.32" height="28.94" fill="#fbbf79"/>
<rect x="1258.57" y="765.32" width="17.32" height="28.94" fill="#d73027"/>
<rect x="1258.57" y="794.26" width="17.32" height="86.82" fill="#fbbf79"/>
<rect x="1258.57" y="881.08" width="17.32" height="28.94" fill="#fcf3b6"/>
<rect x="1258.57" y="910.02" width="17.32" height="28.94" fill="#fce99f"/>
<rect x="1258.57" y="938.96" width="17.32" height="28.94" fill="#f8ac6f"/>
<rect x="1258.57" y="967.9" width="17.32" height="28.94" fill="#faf5c2"/>
<rect x="1258.57" y="996.84" width="17.32" height="28.94" fill="#fbf4bc"/>
<rect x="1258.57" y="1025.78" width="17.32" height="28.94" fill="#fce99f"/>
<rect x="1258.57" y="1054.72" width="17.32" height="28.94" fill="#faf5c2"/>
<rect x="1258.57" y="1083.66" width="17.32" height="28.94" fill="#f8ac6f"/>
<rect x="1258.57" y="1112.6" width="17.32" height="86.82" fill="#faf5c2"/>
<rect x="1281.48" y="649.56" width="17.32" height="28.94" fill="#e6f2e5"/>
<rect x="1281.48" y="678.5" width="17.32" height="28.94" fill="#eff4da"/>
<rect x="1281.48" y="707.44" width="17.32" height="86.82" fill="#f8f6c7"/>
<rect x="1281.48" y="794.26" width="17.32" height="28.94" fill="#fcf3b6"/>
<rect x="1281.48" y="823.2" width="17.32" height="57.88" fill="#f8f6c7"/>
<rect x="1281.48" y="881.08" width="17.32" height="86.82" fill="#fcf1b0"/>
<rect x="1281.48" y="967.9" width="17.32" height="28.94" fill="#e8f3e1"/>
<rect x="1281.48" y="996.84" width="17.32" height="28.94" fill="#f2f5d4"/>
<rect x="1281.48" y="1025.78" width="17.32" height="86.82" fill="#faf5c2"/>
<rect x="1281.48" y="1112.6" width="17.32" height="28.94" fill="#fcf1b0"/>
<rect x="1281.48" y="1141.54" width="17.32" height="57.88" fill="#faf5c2"/>
<rect x="1298.81" y="649.56" width="17.32" height="231.52" fill="#fcdc8d"/>
<rect x="1298.81" y="881.08" width="17.32" height="318.34" fill="#faf5c2"/>
<rect x="1316.13" y="649.56" width="17.32" height="549.86" fill="#faf5c2"/>
<rect x="1333.45" y="649.56" width="17.32" height="231.52" fill="#fcdc8d"/>
<rect x="1333.45" y="881.08" width="17.32" height="318.34" fill="#faf5c2"/>
<rect x="1356.36" y="649.56" width="17.32" height="28.94" fill="#d5e9ee"/>
<rect x="1356.36" y="678.5" width="17.32" height="28.94" fill="#cfe5ee"/>
<rect x="1356.36" y="707.44" width="17.32" height="28.94" fill="#faf5c2"/>
<rect x="1356.36" y="736.38" width="17.32" height="28.94" fill="#fcf1b0"/>
<rect x="1356.36" y="765.32" width="17.32" height="28.94" fill="#fcf2b3"/>
<rect x="1356.36" y="794.26" width="17.32" height="28.94" fill="#f6f6cc"/>
<rect x="1356.36" y="823.2" width="17.32" height="57.88" fill="#faf5c2"/>
<rect x="1356.36" y="881.08" width="17.32" height="28.94" fill="#fbf4bc"/>
<rect x="1356.36" y="910.02" width="17.32" height="28.94" fill="#f6f6cc"/>
<rect x="1356.36" y="938.96" width="17.32" height="28.94" fill="#faf5bf"/>
<rect x="1356.36" y="967.9" width="17.32" height="28.94" fill="#d5e9ee"/>
<rect x="1356.36" y="996.84" width="17.32" height="28.94" fill="#cfe5ee"/>
<rect x="1356.36" y="1025.78" width="17.32" height="28.94" fill="#faf5c2"/>
<rect x="1356.36" y="1054.72" width="17.32" height="28.94" fill="#fcf1b0"/>
<rect x="1356.36" y="1083.66" width="17.32" height="28.94" fill="#fcf2b3"/>
<rect x="1356.36" y="1112.6" width="17.32" height="28.94" fill="#f6f6cc"/>
<rect x="1356.36" y="1141.54" width="17.32" height="57.88" fill="#faf5c2"/>
<rect x="1373.69" y="649.56" width="17.32" height="549.86" fill="#faf5c2"/>
<rect x="1391.01" y="649.56" width="17.32" height="115.76" fill="#faf5c2"/>
<rect x="1391.01" y="765.32" width="17.32" height="28.94" fill="#fbf4bc"/>
<rect x="1391.01" y="794.26" width="17.32" height="144.7" fill="#faf5c2"/>
<rect x="1391.01" y="938.96" width="17.32" height="28.94" fill="#fbf4bc"/>
<rect x="1391.01" y="967.9" width="17.32" height="115.76" fill="#faf5c2"/>
<rect x="1391.01" y="1083.66" width="17.32" height="28.94" fill="#fbf4bc"/>
<rect x="1391.01" y="1112.6" width="17.32" height="86.82" fill="#faf5c2"/>
<rect x="1408.34" y="649.56" width="17.32" height="231.52" fill="#d73027"/>
<rect x="1408.34" y="881.08" width="17.32" height="318.34" fill="#faf5c2"/>
<rect x="83.4" y="1205.22" width="17.32" height="376.22" fill="#79a5ce"/>
<rect x="100.73" y="1205.22" width="17.32" height="376.22" fill="#faf5c2"/>
<rect x="118.05" y="1205.22" width="17.32" height="376.22" fill="#84b0d4"/>
<rect x="135.38" y="1205.22" width="17.32" height="57.88" fill="#fce99f"/>
<rect x="135.38" y="1263.1" width="17.32" height="115.76" fill="#faf5c2"/>
<rect x="135.38" y="1378.86" width="17.32" height="28.94" fill="#f3f5d1"/>
<rect x="135.38" y="1407.8" width="17.32" height="86.82" fill="#faf5c2"/>
<rect x="135.38" y="1494.62" width="17.32" height="28.94" fill="#f6f6cc"/>
<rect x="135.38" y="1523.56" width="17.32" height="57.88" fill="#faf5c2"/>
<rect x="158.28" y="1205.22" width="17.32" height="144.7" fill="#faf5c2"/>
<rect x="158.28" y="1349.92" width="17.32" height="28.94" fill="#f0f4d7"/>
<rect x="158.28" y="1378.86" width="17.32" height="28.94" fill="#f7f6ca"/>
<rect x="158.28" y="1407.8" width="17.32" height="57.88" fill="#faf5c2"/>
<rect x="158.28" y="1465.68" width="17.32" height="28.94" fill="#f0f4d7"/>
<rect x="158.28" y="1494.62" width="17.32" height="86.82" fill="#faf5c2"/>
<rect x="175.6" y="1205.22" width="17.32" height="376.22" fill="#f3f5d1"/>
<rect x="192.93" y="1205.22" width="17.32" height="376.22" fill="#fbf4bc"/>
<rect x="210.25" y="1205.22" width="17.32" height="376.22" fill="#f6f6cc"/>
<rect x="233.16" y="1205.22" width="17.32" height="144.7" fill="#c0dbea"/>
<rect x="233.16" y="1349.92" width="17.32" height="28.94" fill="#cde4ed"/>
<rect x="233.16" y="1378.86" width="17.32" height="28.94" fill="#dbedee"/>
<rect x="233.16" y="1407.8" width="17.32" height="57.88" fill="#c0dbea"/>
<rect x="233.16" y="1465.68" width="17.32" height="28.94" fill="#cde4ed"/>
<rect x="233.16" y="1494.62" width="17.32" height="86.82" fill="#c0dbea"/>
<rect x="250.48" y="1205.22" width="17.32" height="173.64" fill="#faf5c2"/>
<rect x="250.48" y="1378.86" width="17.32" height="28.94" fill="#f3f5d1"/>
<rect x="250.48" y="1407.8" width="17.32" height="86.82" fill="#faf5c2"/>
<rect x="250.48" y="1494.62" width="17.32" height="28.94" fill="#e1f1ef"/>
<rect x="250.48" y="1523.56" width="17.32" height="57.88" fill="#faf5c2"/>
<rect x="267.81" y="1205.22" width="17.32" height="144.7" fill="#84b0d4"/>
<rect x="267.81" y="1349.92" width="17.32" height="28.94" fill="#a0c7e0"/>
<rect x="267.81" y="1378.86" width="17.32" height="28.94" fill="#88b4d6"/>
<rect x="267.81" y="1407.8" width="17.32" height="57.88" fill="#84b0d4"/>
<rect x="267.81" y="1465.68" width="17.32" height="28.94" fill="#a0c7e0"/>
<rect x="267.81" y="1494.62" width="17.32" height="86.82" fill="#84b0d4"/>
<rect x="285.13" y="1205.22" width="17.32" height="28.94" fill="#f4f5cf"/>
<rect x="285.13" y="1234.16" width="17.32" height="28.94" fill="#eff4da"/>
<rect x="285.13" y="1263.1" width="17.32" height="173.64" fill="#f4f5cf"/>
<rect x="285.13" y="1436.74" width="17.32" height="28.94" fill="#edf4de"/>
<rect x="285.13" y="1465.68" width="17.32" height="115.76" fill="#f4f5cf"/>
<rect x="308.04" y="1205.22" width="17.32" height="376.22" fill="#faf5c2"/>
<rect x="325.36" y="1205.22" width="17.32" height="376.22" fill="#faf5c2"/>
<rect x="342.69" y="1205.22" width="17.32" height="28.94" fill="#fceda4"/>
<rect x="342.69" y="1234.16" width="17.32" height="28.94" fill="#faf5c2"/>
<rect x="342.69" y="1263.1" width="17.32" height="28.94" fill="#fceda4"/>
<rect x="342.69" y="1292.04" width="17.32" height="144.7" fill="#faf5c2"/>
<rect x="342.69" y="1436.74" width="17.32" height="28.94" fill="#fbf4bc"/>
<rect x="342.69" y="1465.68" width="17.32" height="115.76" fill="#faf5c2"/>
<rect x="360.01" y="1205.22" width="17.32" height="376.22" fill="#faf5c2"/>
<rect x="382.92" y="1205.22" width="17.32" height="115.76" fill="#faf5c2"/>
<rect x="382.92" y="1320.98" width="17.32" height="57.88" fill="#5d8cc1"/>
<rect x="382.92" y="1378.86" width="17.32" height="28.94" fill="#f4f5cf"/>
<rect x="382.92" y="1407.8" width="17.32" height="57.88" fill="#faf5c2"/>
<rect x="382.92" y="1465.68" width="17.32" height="28.94" fill="#e8f3e1"/>
<rect x="382.92" y="1494.62" width="17.32" height="86.82" fill="#faf5c2"/>
<rect x="400.24" y="1205.22" width="17.32" height="376.22" fill="#faf5c2"/>
<rect x="417.57" y="1205.22" width="17.32" height="376.22" fill="#b2d2e6"/>
<rect x="434.89" y="1205.22" width="17.32" height="28.94" fill="#f7a96e"/>
<rect x="434.89" y="1234.16" width="17.32" height="28.94" fill="#fbba75"/>
<rect x="434.89" y="1263.1" width="17.32" height="318.34" fill="#faf5c2"/>
<rect x="457.8" y="1205.22" width="17.32" height="28.94" fill="#fcdf90"/>
<rect x="457.8" y="1234.16" width="17.32" height="28.94" fill="#faf5c2"/>
<rect x="457.8" y="1263.1" width="17.32" height="28.94" fill="#fcdf90"/>
<rect x="457.8" y="1292.04" width="17.32" height="28.94" fill="#faf5c2"/>
<rect x="457.8" y="1320.98" width="17.32" height="28.94" fill="#eef4dd"/>
<rect x="457.8" y="1349.92" width="17.32" height="28.94" fill="#f2f5d4"/>
<rect x="457.8" y="1378.86" width="17.32" height="28.94" fill="#fceda4"/>
<rect x="457.8" y="1407.8" width="17.32" height="57.88" fill="#faf5c2"/>
<rect x="457.8" y="1465.68" width="17.32" height="28.94" fill="#fbf4bc"/>
<rect x="457.8" y="1494.62" width="17.32" height="86.82" fill="#faf5c2"/>
<rect x="475.12" y="1205.22" width="17.32" height="376.22" fill="#faf5c2"/>
<rect x="492.45" y="1205.22" width="17.32" height="376.22" fill="#faf5c2"/>
<rect x="509.77" y="1205.22" width="17.32" height="173.64" fill="#f3f5d1"/>
<rect x="509.77" y="1378.86" width="17.32" height="28.94" fill="#eef4dd"/>
<rect x="509.77" y="1407.8" width="17.32" height="28.94" fill="#e6f2e5"/>
<rect x="509.77" y="1436.74" width="17.32" height="57.88" fill="#f3f5d1"/>
<rect x="509.77" y="1494.62" width="17.32" height="28.94" fill="#ebf4df"/>
<rect x="509.77" y="1523.56" width="17.32" height="57.88" fill="#f3f5d1"/>
<rect x="532.68" y="1205.22" width="17.32" height="28.94" fill="#98c1dd"/>
<rect x="532.68" y="1234.16" width="17.32" height="28.94" fill="#4575b4"/>
<rect x="532.68" y="1263.1" width="17.32" height="28.94" fill="#98c1dd"/>
<rect x="532.68" y="1292.04" width="17.32" height="57.88" fill="#4575b4"/>
<rect x="532.68" y="1349.92" width="17.32" height="28.94" fill="#4d7cb8"/>
<rect x="532.68" y="1378.86" width="17.32" height="28.94" fill="#5281bb"/>
<rect x="532.68" y="1407.8" width="17.32" height="57.88" fill="#4575b4"/>
<rect x="532.68" y="1465.68" width="17.32" height="28.94" fill="#4e7eb9"/>
<rect x="532.68" y="1494.62" width="17.32" height="86.82" fill="#4575b4"/>
<rect x="550" y="1205.22" width="17.32" height="376.22" fill="#faf5c2"/>
<rect x="567.33" y="1205.22" width="17.32" height="144.7" fill="#5d8cc1"/>
<rect x="567.33" y="1349.92" width="17.32" height="28.94" fill="#6f9cca"/>
<rect x="567.33" y="1378.86" width="17.32" height="28.94" fill="#8db8d8"/>
<rect x="567.33" y="1407.8" width="17.32" height="57.88" fill="#5d8cc1"/>
<rect x="567.33" y="1465.68" width="17.32" height="28.94" fill="#719fcb"/>
<rect x="567.33" y="1494.62" width="17.32" height="28.94" fill="#6b99c8"/>
<rect x="567.33" y="1523.56" width="17.32" height="57.88" fill="#5d8cc1"/>
<rect x="584.65" y="1205.22" width="17.32" height="202.58" fill="#eef4dd"/>
<rect x="584.65" y="1407.8" width="17.32" height="28.94" fill="#e6f2e5"/>
<rect x="584.65" y="1436.74" width="17.32" height="57.88" fill="#eef4dd"/>
<rect x="584.65" y="1494.62" width="17.32" height="28.94" fill="#e8f3e1"/>
<rect x="584.65" y="1523.56" width="17.32" height="57.88" fill="#eef4dd"/>
<rect x="607.56" y="1205.22" width="17.32" height="376.22" fill="#4575b4"/>
<rect x="624.88" y="1205.22" width="17.32" height="28.94" fill="#fcefaa"/>
<rect x="624.88" y="1234.16" width="17.32" height="28.94" fill="#fbf4bc"/>
<rect x="624.88" y="1263.1" width="17.32" height="28.94" fill="#fcefaa"/>
<rect x="624.88" y="1292.04" width="17.32" height="289.4" fill="#fbf4bc"/>
<rect x="642.21" y="1205.22" width="17.32" height="28.94" fill="#5484bc"/>
<rect x="642.21" y="1234.16" width="17.32" height="347.28" fill="#4575b4"/>
<rect x="659.53" y="1205.22" width="17.32" height="28.94" fill="#ec6b4a"/>
<rect x="659.53" y="1234.16" width="17.32" height="28.94" fill="#f17e55"/>
<rect x="659.53" y="1263.1" width="17.32" height="28.94" fill="#fce99f"/>
<rect x="659.53" y="1292.04" width="17.32" height="28.94" fill="#e85c3f"/>
<rect x="659.53" y="1320.98" width="17.32" height="260.46" fill="#fce99f"/>
<rect x="682.44" y="1205.22" width="17.32" height="86.82" fill="#faf5c2"/>
<rect x="682.44" y="1292.04" width="17.32" height="28.94" fill="#d9362a"/>
<rect x="682.44" y="1320.98" width="17.32" height="28.94" fill="#f7f6ca"/>
<rect x="682.44" y="1349.92" width="17.32" height="28.94" fill="#faf5c2"/>
<rect x="682.44" y="1378.86" width="17.32" height="28.94" fill="#e1f1ef"/>
<rect x="682.44" y="1407.8" width="17.32" height="173.64" fill="#faf5c2"/>
<rect x="699.76" y="1205.22" width="17.32" height="173.64" fill="#faf5c2"/>
<rect x="699.76" y="1378.86" width="17.32" height="28.94" fill="#fce99f"/>
<rect x="699.76" y="1407.8" width="17.32" height="173.64" fill="#faf5c2"/>
<rect x="717.09" y="1205.22" width="17.32" height="28.94" fill="#a4c9e1"/>
<rect x="717.09" y="1234.16" width="17.32" height="28.94" fill="#98c2dd"/>
<rect x="717.09" y="1263.1" width="17.32" height="86.82" fill="#a4c9e1"/>
<rect x="717.09" y="1349.92" width="17.32" height="28.94" fill="#bbd8e8"/>
<rect x="717.09" y="1378.86" width="17.32" height="86.82" fill="#a4c9e1"/>
<rect x="717.09" y="1465.68" width="17.32" height="28.94" fill="#bbd8e8"/>
<rect x="717.09" y="1494.62" width="17.32" height="86.82" fill="#a4c9e1"/>
<rect x="734.41" y="1205.22" width="17.32" height="28.94" fill="#f7f6ca"/>
<rect x="734.41" y="1234.16" width="17.32" height="28.94" fill="#f4f5cf"/>
<rect x="734.41" y="1263.1" width="17.32" height="318.34" fill="#faf5c2"/>
<rect x="757.32" y="1205.22" width="17.32" height="115.76" fill="#5685bd"/>
<rect x="757.32" y="1320.98" width="17.32" height="57.88" fill="#4575b4"/>
<rect x="757.32" y="1378.86" width="17.32" height="28.94" fill="#608fc2"/>
<rect x="757.32" y="1407.8" width="17.32" height="57.88" fill="#5685bd"/>
<rect x="757.32" y="1465.68" width="17.32" height="28.94" fill="#4575b4"/>
<rect x="757.32" y="1494.62" width="17.32" height="86.82" fill="#5685bd"/>
<rect x="774.64" y="1205.22" width="17.32" height="376.22" fill="#e1f1ef"/>
<rect x="791.97" y="1205.22" width="17.32" height="376.22" fill="#4575b4"/>
<rect x="809.29" y="1205.22" width="17.32" height="28.94" fill="#fcd68a"/>
<rect x="809.29" y="1234.16" width="17.32" height="28.94" fill="#fcdc8d"/>
<rect x="809.29" y="1263.1" width="17.32" height="318.34" fill="#faf5c2"/>
<rect x="832.2" y="1205.22" width="17.32" height="28.94" fill="#4777b5"/>
<rect x="832.2" y="1234.16" width="17.32" height="28.94" fill="#4575b4"/>
<rect x="832.2" y="1263.1" width="17.32" height="28.94" fill="#4777b5"/>
<rect x="832.2" y="1292.04" width="17.32" height="289.4" fill="#4575b4"/>
<rect x="849.52" y="1205.22" width="17.32" height="376.22" fill="#5d8cc1"/>
<rect x="866.85" y="1205.22" width="17.32" height="376.22" fill="#4575b4"/>
<rect x="884.17" y="1205.22" width="17.32" height="28.94" fill="#f38759"/>
<rect x="884.17" y="1234.16" width="17.32" height="28.94" fill="#f69d65"/>
<rect x="884.17" y="1263.1" width="17.32" height="318.34" fill="#faf5c2"/>
<rect x="907.08" y="1205.22" width="17.32" height="173.64" fill="#4575b4"/>
<rect x="907.08" y="1378.86" width="17.32" height="28.94" fill="#4979b6"/>
<rect x="907.08" y="1407.8" width="17.32" height="173.64" fill="#4575b4"/>
<rect x="924.4" y="1205.22" width="17.32" height="28.94" fill="#f6a168"/>
<rect x="924.4" y="1234.16" width="17.32" height="28.94" fill="#faf5c2"/>
<rect x="924.4" y="1263.1" width="17.32" height="28.94" fill="#f6a168"/>
<rect x="924.4" y="1292.04" width="17.32" height="289.4" fill="#faf5c2"/>
<rect x="941.73" y="1205.22" width="17.32" height="376.22" fill="#4575b4"/>
<rect x="959.05" y="1205.22" width="17.32" height="28.94" fill="#ecf4de"/>
<rect x="959.05" y="1234.16" width="17.32" height="28.94" fill="#e9f3e1"/>
<rect x="959.05" y="1263.1" width="17.32" height="318.34" fill="#a8cce2"/>
<rect x="981.96" y="1205.22" width="17.32" height="173.64" fill="#faf5c2"/>
<rect x="981.96" y="1378.86" width="17.32" height="28.94" fill="#fab371"/>
<rect x="981.96" y="1407.8" width="17.32" height="86.82" fill="#faf5c2"/>
<rect x="981.96" y="1494.62" width="17.32" height="28.94" fill="#f6f6cc"/>
<rect x="981.96" y="1523.56" width="17.32" height="57.88" fill="#faf5c2"/>
<rect x="999.28" y="1205.22" width="17.32" height="376.22" fill="#faf5c2"/>
<rect x="1016.61" y="1205.22" width="17.32" height="376.22" fill="#4575b4"/>
<rect x="1033.93" y="1205.22" width="17.32" height="28.94" fill="#fcd086"/>
<rect x="1033.93" y="1234.16" width="17.32" height="28.94" fill="#fcdc8d"/>
<rect x="1033.93" y="1263.1" width="17.32" height="318.34" fill="#faf5c2"/>
<rect x="1056.84" y="1205.22" width="17.32" height="202.58" fill="#faf5c2"/>
<rect x="1056.84" y="1407.8" width="17.32" height="28.94" fill="#eef4dd"/>
<rect x="1056.84" y="1436.74" width="17.32" height="144.7" fill="#faf5c2"/>
<rect x="1074.16" y="1205.22" width="17.32" height="376.22" fill="#faf5c2"/>
<rect x="1091.49" y="1205.22" width="17.32" height="376.22" fill="#faf5c2"/>
<rect x="1108.81" y="1205.22" width="17.32" height="376.22" fill="#faf5c2"/>
<rect x="1131.72" y="1205.22" width="17.32" height="376.22" fill="#4575b4"/>
<rect x="1149.05" y="1205.22" width="17.32" height="28.94" fill="#7eaad0"/>
<rect x="1149.05" y="1234.16" width="17.32" height="28.94" fill="#9ac3de"/>
<rect x="1149.05" y="1263.1" width="17.32" height="28.94" fill="#7eaad0"/>
<rect x="1149.05" y="1292.04" width="17.32" height="289.4" fill="#9ac3de"/>
<rect x="1166.37" y="1205.22" width="17.32" height="376.22" fill="#4575b4"/>
<rect x="1183.69" y="1205.22" width="17.32" height="28.94" fill="#bbd8e8"/>
<rect x="1183.69" y="1234.16" width="17.32" height="28.94" fill="#b6d5e7"/>
<rect x="1183.69" y="1263.1" width="17.32" height="115.76" fill="#7ca8d0"/>
<rect x="1183.69" y="1378.86" width="17.32" height="28.94" fill="#4575b4"/>
<rect x="1183.69" y="1407.8" width="17.32" height="86.82" fill="#7ca8d0"/>
<rect x="1183.69" y="1494.62" width="17.32" height="28.94" fill="#5a88bf"/>
<rect x="1183.69" y="1523.56" width="17.32" height="57.88" fill="#7ca8d0"/>
<rect x="1206.6" y="1205.22" width="17.32" height="115.76" fill="#faf5c2"/>
<rect x="1206.6" y="1320.98" width="17.32" height="28.94" fill="#c0dbea"/>
<rect x="1206.6" y="1349.92" width="17.32" height="28.94" fill="#deefef"/>
<rect x="1206.6" y="1378.86" width="17.32" height="28.94" fill="#fde699"/>
<rect x="1206.6" y="1407.8" width="17.32" height="57.88" fill="#faf5c2"/>
<rect x="1206.6" y="1465.68" width="17.32" height="28.94" fill="#fbf4bc"/>
<rect x="1206.6" y="1494.62" width="17.32" height="86.82" fill="#faf5c2"/>
<rect x="1223.92" y="1205.22" width="17.32" height="28.94" fill="#d73027"/>
<rect x="1223.92" y="1234.16" width="17.32" height="28.94" fill="#faf5c2"/>
<rect x="1223.92" y="1263.1" width="17.32" height="28.94" fill="#d73027"/>
<rect x="1223.92" y="1292.04" width="17.32" height="289.4" fill="#faf5c2"/>
<rect x="1241.25" y="1205.22" width="17.32" height="144.7" fill="#faf5c2"/>
<rect x="1241.25" y="1349.92" width="17.32" height="28.94" fill="#fceba1"/>
<rect x="1241.25" y="1378.86" width="17.32" height="86.82" fill="#faf5c2"/>
<rect x="1241.25" y="1465.68" width="17.32" height="28.94" fill="#fce99f"/>
<rect x="1241.25" y="1494.62" width="17.32" height="28.94" fill="#fcf3b6"/>
<rect x="1241.25" y="1523.56" width="17.32" height="57.88" fill="#faf5c2"/>
<rect x="1258.57" y="1205.22" width="17.32" height="28.94" fill="#faf5c2"/>
<rect x="1258.57" y="1234.16" width="17.32" height="28.94" fill="#fbbf79"/>
<rect x="1258.57" y="1263.1" width="17.32" height="86.82" fill="#faf5c2"/>
<rect x="1258.57" y="1349.92" width="17.32" height="28.94" fill="#fbf4bc"/>
<rect x="1258.57" y="1378.86" width="17.32" height="28.94" fill="#fcf4b9"/>
<rect x="1258.57" y="1407.8" width="17.32" height="28.94" fill="#fce99f"/>
<rect x="1258.57" y="1436.74" width="17.32" height="28.94" fill="#f8ac6f"/>
<rect x="1258.57" y="1465.68" width="17.32" height="115.76" fill="#faf5c2"/>
<rect x="1281.48" y="1205.22" width="17.32" height="28.94" fill="#faf5c2"/>
<rect x="1281.48" y="1234.16" width="17.32" height="28.94" fill="#f8f6c7"/>
<rect x="1281.48" y="1263.1" width="17.32" height="57.88" fill="#faf5c2"/>
<rect x="1281.48" y="1320.98" width="17.32" height="28.94" fill="#e8f3e1"/>
<rect x="1281.48" y="1349.92" width="17.32" height="28.94" fill="#f2f5d4"/>
<rect x="1281.48" y="1378.86" width="17.32" height="28.94" fill="#fceda4"/>
<rect x="1281.48" y="1407.8" width="17.32" height="57.88" fill="#faf5c2"/>
<rect x="1281.48" y="1465.68" width="17.32" height="28.94" fill="#fcf1b0"/>
<rect x="1281.48" y="1494.62" width="17.32" height="86.82" fill="#faf5c2"/>
<rect x="1298.81" y="1205.22" width="17.32" height="28.94" fill="#fbba75"/>
<rect x="1298.81" y="1234.16" width="17.32" height="28.94" fill="#fcdc8d"/>
<rect x="1298.81" y="1263.1" width="17.32" height="318.34" fill="#faf5c2"/>
<rect x="1316.13" y="1205.22" width="17.32" height="376.22" fill="#faf5c2"/>
<rect x="1333.45" y="1205.22" width="17.32" height="28.94" fill="#fcd086"/>
<rect x="1333.45" y="1234.16" width="17.32" height="28.94" fill="#fcdc8d"/>
<rect x="1333.45" y="1263.1" width="17.32" height="318.34" fill="#faf5c2"/>
<rect x="1356.36" y="1205.22" width="17.32" height="28.94" fill="#fcf2b3"/>
<rect x="1356.36" y="1234.16" width="17.32" height="28.94" fill="#faf5c2"/>
<rect x="1356.36" y="1263.1" width="17.32" height="28.94" fill="#fcf3b6"/>
<rect x="1356.36" y="1292.04" width="17.32" height="28.94" fill="#faf5c2"/>
<rect x="1356.36" y="1320.98" width="17.32" height="28.94" fill="#d5e9ee"/>
<rect x="1356.36" y="1349.92" width="17.32" height="28.94" fill="#cfe5ee"/>
<rect x="1356.36" y="1378.86" width="17.32" height="28.94" fill="#fde699"/>
<rect x="1356.36" y="1407.8" width="17.32" height="28.94" fill="#faf5c2"/>
<rect x="1356.36" y="1436.74" width="17.32" height="28.94" fill="#fcf2b3"/>
<rect x="1356.36" y="1465.68" width="17.32" height="28.94" fill="#f6f6cc"/>
<rect x="1356.36" y="1494.62" width="17.32" height="28.94" fill="#fcf1b0"/>
<rect x="1356.36" y="1523.56" width="17.32" height="57.88" fill="#faf5c2"/>
<rect x="1373.69" y="1205.22" width="17.32" height="376.22" fill="#faf5c2"/>
<rect x="1391.01" y="1205.22" width="17.32" height="28.94" fill="#fceea7"/>
<rect x="1391.01" y="1234.16" width="17.32" height="28.94" fill="#faf5c2"/>
<rect x="1391.01" y="1263.1" width="17.32" height="28.94" fill="#fceea7"/>
<rect x="1391.01" y="1292.04" width="17.32" height="144.7" fill="#faf5c2"/>
<rect x="1391.01" y="1436.74" width="17.32" height="28.94" fill="#fbf4bc"/>
<rect x="1391.01" y="1465.68" width="17.32" height="115.76" fill="#faf5c2"/>
<rect x="1408.34" y="1205.22" width="17.32" height="57.88" fill="#d73027"/>
<rect x="1408.34" y="1263.1" width="17.32" height="318.34" fill="#faf5c2"/>
<rect x="83.4" y="1587.24" width="17.32" height="28.94" fill="#cfe5ee"/>
<rect x="83.4" y="1616.18" width="17.32" height="28.94" fill="#cae2ed"/>
<rect x="83.4" y="1645.12" width="17.32" height="57.88" fill="#cfe5ee"/>
<rect x="83.4" y="1703" width="17.32" height="28.94" fill="#c6dfec"/>
<rect x="83.4" y="1731.94" width="17.32" height="28.94" fill="#c2ddeb"/>
<rect x="83.4" y="1760.88" width="17.32" height="57.88" fill="#cfe5ee"/>
<rect x="83.4" y="1818.76" width="17.32" height="28.94" fill="#cae2ed"/>
<rect x="83.4" y="1847.7" width="17.32" height="57.88" fill="#cfe5ee"/>
<rect x="100.73" y="1587.24" width="17.32" height="318.34" fill="#faf5c2"/>
<rect x="118.05" y="1587.24" width="17.32" height="28.94" fill="#d5e9ee"/>
<rect x="118.05" y="1616.18" width="17.32" height="28.94" fill="#c3ddeb"/>
<rect x="118.05" y="1645.12" width="17.32" height="231.52" fill="#d5e9ee"/>
<rect x="118.05" y="1876.64" width="17.32" height="28.94" fill="#cce3ed"/>
<rect x="135.38" y="1587.24" width="17.32" height="57.88" fill="#fcefab"/>
<rect x="135.38" y="1645.12" width="17.32" height="231.52" fill="#f6f6cc"/>
<rect x="135.38" y="1876.64" width="17.32" height="28.94" fill="#f1f5d7"/>
<rect x="158.28" y="1587.24" width="17.32" height="144.7" fill="#f8f6c7"/>
<rect x="158.28" y="1731.94" width="17.32" height="28.94" fill="#eef4dd"/>
<rect x="158.28" y="1760.88" width="17.32" height="57.88" fill="#f8f6c7"/>
<rect x="158.28" y="1818.76" width="17.32" height="28.94" fill="#eef4dd"/>
<rect x="158.28" y="1847.7" width="17.32" height="57.88" fill="#f8f6c7"/>
<rect x="175.6" y="1587.24" width="17.32" height="318.34" fill="#f8f6c7"/>
<rect x="192.93" y="1587.24" width="17.32" height="318.34" fill="#faf5c2"/>
<rect x="210.25" y="1587.24" width="17.32" height="318.34" fill="#faf5c2"/>
<rect x="233.16" y="1587.24" width="17.32" height="115.76" fill="#f6f6cc"/>
<rect x="233.16" y="1703" width="17.32" height="28.94" fill="#f2f5d4"/>
<rect x="233.16" y="1731.94" width="17.32" height="28.94" fill="#faf5c2"/>
<rect x="233.16" y="1760.88" width="17.32" height="57.88" fill="#f6f6cc"/>
<rect x="233.16" y="1818.76" width="17.32" height="28.94" fill="#faf5c2"/>
<rect x="233.16" y="1847.7" width="17.32" height="57.88" fill="#f6f6cc"/>
<rect x="250.48" y="1587.24" width="17.32" height="289.4" fill="#f6f6cc"/>
<rect x="250.48" y="1876.64" width="17.32" height="28.94" fill="#d6eaee"/>
<rect x="267.81" y="1587.24" width="17.32" height="28.94" fill="#e1f1ef"/>
<rect x="267.81" y="1616.18" width="17.32" height="28.94" fill="#d6eaee"/>
<rect x="267.81" y="1645.12" width="17.32" height="86.82" fill="#e1f1ef"/>
<rect x="267.81" y="1731.94" width="17.32" height="28.94" fill="#eaf3e0"/>
<rect x="267.81" y="1760.88" width="17.32" height="57.88" fill="#e1f1ef"/>
<rect x="267.81" y="1818.76" width="17.32" height="28.94" fill="#eaf3e0"/>
<rect x="267.81" y="1847.7" width="17.32" height="57.88" fill="#e1f1ef"/>
<rect x="285.13" y="1587.24" width="17.32" height="28.94" fill="#faf5c2"/>
<rect x="285.13" y="1616.18" width="17.32" height="28.94" fill="#f6f6cc"/>
<rect x="285.13" y="1645.12" width="17.32" height="144.7" fill="#faf5c2"/>
<rect x="285.13" y="1789.82" width="17.32" height="28.94" fill="#f3f5d1"/>
<rect x="285.13" y="1818.76" width="17.32" height="86.82" fill="#faf5c2"/>
<rect x="308.04" y="1587.24" width="17.32" height="318.34" fill="#faf5c2"/>
<rect x="325.36" y="1587.24" width="17.32" height="318.34" fill="#faf5c2"/>
<rect x="342.69" y="1587.24" width="17.32" height="28.94" fill="#fceda4"/>
<rect x="342.69" y="1616.18" width="17.32" height="28.94" fill="#faf5c2"/>
<rect x="342.69" y="1645.12" width="17.32" height="28.94" fill="#fceda4"/>
<rect x="342.69" y="1674.06" width="17.32" height="115.76" fill="#faf5c2"/>
<rect x="342.69" y="1789.82" width="17.32" height="28.94" fill="#fbf4bc"/>
<rect x="342.69" y="1818.76" width="17.32" height="86.82" fill="#faf5c2"/>
<rect x="360.01" y="1587.24" width="17.32" height="318.34" fill="#faf5c2"/>
<rect x="382.92" y="1587.24" width="17.32" height="115.76" fill="#f4f5cf"/>
<rect x="382.92" y="1703" width="17.32" height="57.88" fill="#5d8cc1"/>
<rect x="382.92" y="1760.88" width="17.32" height="57.88" fill="#f4f5cf"/>
<rect x="382.92" y="1818.76" width="17.32" height="28.94" fill="#e3f1ec"/>
<rect x="382.92" y="1847.7" width="17.32" height="57.88" fill="#f4f5cf"/>
<rect x="400.24" y="1587.24" width="17.32" height="318.34" fill="#faf5c2"/>
<rect x="417.57" y="1587.24" width="17.32" height="28.94" fill="#e8f3e1"/>
<rect x="417.57" y="1616.18" width="17.32" height="28.94" fill="#e5f2e6"/>
<rect x="417.57" y="1645.12" width="17.32" height="231.52" fill="#e8f3e1"/>
<rect x="417.57" y="1876.64" width="17.32" height="28.94" fill="#e6f2e6"/>
<rect x="434.89" y="1587.24" width="17.32" height="28.94" fill="#f7a96e"/>
<rect x="434.89" y="1616.18" width="17.32" height="28.94" fill="#fbba75"/>
<rect x="434.89" y="1645.12" width="17.32" height="260.46" fill="#faf5c2"/>
<rect x="457.8" y="1587.24" width="17.32" height="28.94" fill="#fcd086"/>
<rect x="457.8" y="1616.18" width="17.32" height="28.94" fill="#fceda4"/>
<rect x="457.8" y="1645.12" width="17.32" height="28.94" fill="#fcd086"/>
<rect x="457.8" y="1674.06" width="17.32" height="28.94" fill="#fceda4"/>
<rect x="457.8" y="1703" width="17.32" height="28.94" fill="#faf5c3"/>
<rect x="457.8" y="1731.94" width="17.32" height="28.94" fill="#fbf4ba"/>
<rect x="457.8" y="1760.88" width="17.32" height="57.88" fill="#fceda4"/>
<rect x="457.8" y="1818.76" width="17.32" height="28.94" fill="#fce99e"/>
<rect x="457.8" y="1847.7" width="17.32" height="57.88" fill="#fceda4"/>
<rect x="475.12" y="1587.24" width="17.32" height="318.34" fill="#faf5c2"/>
<rect x="492.45" y="1587.24" width="17.32" height="318.34" fill="#faf5c2"/>
<rect x="509.77" y="1587.24" width="17.32" height="173.64" fill="#f4f5cf"/>
<rect x="509.77" y="1760.88" width="17.32" height="28.94" fill="#e7f3e3"/>
<rect x="509.77" y="1789.82" width="17.32" height="86.82" fill="#f4f5cf"/>
<rect x="509.77" y="1876.64" width="17.32" height="28.94" fill="#edf4de"/>
<rect x="532.68" y="1587.24" width="17.32" height="28.94" fill="#fbf4bb"/>
<rect x="532.68" y="1616.18" width="17.32" height="28.94" fill="#c6dfec"/>
<rect x="532.68" y="1645.12" width="17.32" height="28.94" fill="#fbf4bb"/>
<rect x="532.68" y="1674.06" width="17.32" height="28.94" fill="#cce3ed"/>
<rect x="532.68" y="1703" width="17.32" height="28.94" fill="#bedae9"/>
<rect x="532.68" y="1731.94" width="17.32" height="28.94" fill="#dbedee"/>
<rect x="532.68" y="1760.88" width="17.32" height="28.94" fill="#4575b4"/>
<rect x="532.68" y="1789.82" width="17.32" height="28.94" fill="#cce3ed"/>
<rect x="532.68" y="1818.76" width="17.32" height="28.94" fill="#dcedef"/>
<rect x="532.68" y="1847.7" width="17.32" height="28.94" fill="#cce3ed"/>
<rect x="532.68" y="1876.64" width="17.32" height="28.94" fill="#c2dceb"/>
<rect x="550" y="1587.24" width="17.32" height="318.34" fill="#faf5c2"/>
<rect x="567.33" y="1587.24" width="17.32" height="28.94" fill="#eef4dd"/>
<rect x="567.33" y="1616.18" width="17.32" height="28.94" fill="#e6f2e5"/>
<rect x="567.33" y="1645.12" width="17.32" height="86.82" fill="#eef4dd"/>
<rect x="567.33" y="1731.94" width="17.32" height="28.94" fill="#f7f6cb"/>
<rect x="567.33" y="1760.88" width="17.32" height="57.88" fill="#eef4dd"/>
<rect x="567.33" y="1818.76" width="17.32" height="28.94" fill="#f8f6c8"/>
<rect x="567.33" y="1847.7" width="17.32" height="28.94" fill="#eef4dd"/>
<rect x="567.33" y="1876.64" width="17.32" height="28.94" fill="#e8f3e1"/>
<rect x="584.65" y="1587.24" width="17.32" height="173.64" fill="#faf5c2"/>
<rect x="584.65" y="1760.88" width="17.32" height="28.94" fill="#f3f5d1"/>
<rect x="584.65" y="1789.82" width="17.32" height="86.82" fill="#faf5c2"/>
<rect x="584.65" y="1876.64" width="17.32" height="28.94" fill="#f6f6cc"/>
<rect x="607.56" y="1587.24" width="17.32" height="28.94" fill="#6e9cca"/>
<rect x="607.56" y="1616.18" width="17.32" height="28.94" fill="#5f8dc2"/>
<rect x="607.56" y="1645.12" width="17.32" height="57.88" fill="#6e9cca"/>
<rect x="607.56" y="1703" width="17.32" height="57.88" fill="#5988bf"/>
<rect x="607.56" y="1760.88" width="17.32" height="57.88" fill="#6e9cca"/>
<rect x="607.56" y="1818.76" width="17.32" height="28.94" fill="#5c8bc0"/>
<rect x="607.56" y="1847.7" width="17.32" height="28.94" fill="#6e9cca"/>
<rect x="607.56" y="1876.64" width="17.32" height="28.94" fill="#6492c4"/>
<rect x="624.88" y="1587.24" width="17.32" height="28.94" fill="#fceda4"/>
<rect x="624.88" y="1616.18" width="17.32" height="28.94" fill="#fcf3b6"/>
<rect x="624.88" y="1645.12" width="17.32" height="28.94" fill="#fceda4"/>
<rect x="624.88" y="1674.06" width="17.32" height="231.52" fill="#fcf3b6"/>
<rect x="642.21" y="1587.24" width="17.32" height="28.94" fill="#f3f5d1"/>
<rect x="642.21" y="1616.18" width="17.32" height="28.94" fill="#ddeeef"/>
<rect x="642.21" y="1645.12" width="17.32" height="260.46" fill="#79a5ce"/>
<rect x="659.53" y="1587.24" width="17.32" height="28.94" fill="#f69b64"/>
<rect x="659.53" y="1616.18" width="17.32" height="28.94" fill="#f8ab6f"/>
<rect x="659.53" y="1645.12" width="17.32" height="28.94" fill="#fcf4b9"/>
<rect x="659.53" y="1674.06" width="17.32" height="28.94" fill="#e85c3f"/>
<rect x="659.53" y="1703" width="17.32" height="202.58" fill="#fcf4b9"/>
<rect x="682.44" y="1587.24" width="17.32" height="86.82" fill="#deefef"/>
<rect x="682.44" y="1674.06" width="17.32" height="28.94" fill="#f9b070"/>
<rect x="682.44" y="1703" width="17.32" height="28.94" fill="#d6eaee"/>
<rect x="682.44" y="1731.94" width="17.32" height="173.64" fill="#deefef"/>
<rect x="699.76" y="1587.24" width="17.32" height="318.34" fill="#fce99f"/>
<rect x="717.09" y="1587.24" width="17.32" height="28.94" fill="#e4f2e8"/>
<rect x="717.09" y="1616.18" width="17.32" height="28.94" fill="#e1f1ee"/>
<rect x="717.09" y="1645.12" width="17.32" height="86.82" fill="#e4f2e8"/>
<rect x="717.09" y="1731.94" width="17.32" height="28.94" fill="#ecf4df"/>
<rect x="717.09" y="1760.88" width="17.32" height="57.88" fill="#e4f2e8"/>
<rect x="717.09" y="1818.76" width="17.32" height="28.94" fill="#ecf4df"/>
<rect x="717.09" y="1847.7" width="17.32" height="57.88" fill="#e4f2e8"/>
<rect x="734.41" y="1587.24" width="17.32" height="28.94" fill="#f7f6ca"/>
<rect x="734.41" y="1616.18" width="17.32" height="28.94" fill="#f4f5cf"/>
<rect x="734.41" y="1645.12" width="17.32" height="260.46" fill="#faf5c2"/>
<rect x="757.32" y="1587.24" width="17.32" height="115.76" fill="#c9e1ed"/>
<rect x="757.32" y="1703" width="17.32" height="28.94" fill="#91bddb"/>
<rect x="757.32" y="1731.94" width="17.32" height="28.94" fill="#86b1d4"/>
<rect x="757.32" y="1760.88" width="17.32" height="57.88" fill="#c9e1ed"/>
<rect x="757.32" y="1818.76" width="17.32" height="28.94" fill="#adcfe4"/>
<rect x="757.32" y="1847.7" width="17.32" height="57.88" fill="#c9e1ed"/>
<rect x="774.64" y="1587.24" width="17.32" height="318.34" fill="#f4f5cf"/>
<rect x="791.97" y="1587.24" width="17.32" height="28.94" fill="#a4c9e1"/>
<rect x="791.97" y="1616.18" width="17.32" height="28.94" fill="#8ab5d7"/>
<rect x="791.97" y="1645.12" width="17.32" height="260.46" fill="#a4c9e1"/>
<rect x="809.29" y="1587.24" width="17.32" height="28.94" fill="#fcd68a"/>
<rect x="809.29" y="1616.18" width="17.32" height="28.94" fill="#fcdc8d"/>
<rect x="809.29" y="1645.12" width="17.32" height="260.46" fill="#faf5c2"/>
<rect x="832.2" y="1587.24" width="17.32" height="28.94" fill="#f8f6c7"/>
<rect x="832.2" y="1616.18" width="17.32" height="28.94" fill="#9dc5df"/>
<rect x="832.2" y="1645.12" width="17.32" height="28.94" fill="#f8f6c7"/>
<rect x="832.2" y="1674.06" width="17.32" height="28.94" fill="#a8cce2"/>
<rect x="832.2" y="1703" width="17.32" height="28.94" fill="#91bddb"/>
<rect x="832.2" y="1731.94" width="17.32" height="86.82" fill="#a8cce2"/>
<rect x="832.2" y="1818.76" width="17.32" height="28.94" fill="#c3ddeb"/>
<rect x="832.2" y="1847.7" width="17.32" height="28.94" fill="#a8cce2"/>
<rect x="832.2" y="1876.64" width="17.32" height="28.94" fill="#c3ddeb"/>
<rect x="849.52" y="1587.24" width="17.32" height="318.34" fill="#deefef"/>
<rect x="866.85" y="1587.24" width="17.32" height="28.94" fill="#77a3cd"/>
<rect x="866.85" y="1616.18" width="17.32" height="28.94" fill="#5988bf"/>
<rect x="866.85" y="1645.12" width="17.32" height="260.46" fill="#7ca8d0"/>
<rect x="884.17" y="1587.24" width="17.32" height="28.94" fill="#f38759"/>
<rect x="884.17" y="1616.18" width="17.32" height="28.94" fill="#f69d65"/>
<rect x="884.17" y="1645.12" width="17.32" height="260.46" fill="#faf5c2"/>
<rect x="907.08" y="1587.24" width="17.32" height="28.94" fill="#c9e1ed"/>
<rect x="907.08" y="1616.18" width="17.32" height="28.94" fill="#b9d7e8"/>
<rect x="907.08" y="1645.12" width="17.32" height="57.88" fill="#c9e1ed"/>
<rect x="907.08" y="1703" width="17.32" height="28.94" fill="#6492c4"/>
<rect x="907.08" y="1731.94" width="17.32" height="28.94" fill="#5e8cc1"/>
<rect x="907.08" y="1760.88" width="17.32" height="57.88" fill="#c9e1ed"/>
<rect x="907.08" y="1818.76" width="17.32" height="28.94" fill="#a1c7e0"/>
<rect x="907.08" y="1847.7" width="17.32" height="28.94" fill="#c9e1ed"/>
<rect x="907.08" y="1876.64" width="17.32" height="28.94" fill="#c1dcea"/>
<rect x="924.4" y="1587.24" width="17.32" height="28.94" fill="#f5935e"/>
<rect x="924.4" y="1616.18" width="17.32" height="28.94" fill="#fcf4b9"/>
<rect x="924.4" y="1645.12" width="17.32" height="28.94" fill="#f5935e"/>
<rect x="924.4" y="1674.06" width="17.32" height="231.52" fill="#fcf4b9"/>
<rect x="941.73" y="1587.24" width="17.32" height="28.94" fill="#eef4dd"/>
<rect x="941.73" y="1616.18" width="17.32" height="28.94" fill="#e2f1ee"/>
<rect x="941.73" y="1645.12" width="17.32" height="231.52" fill="#eef4dd"/>
<rect x="941.73" y="1876.64" width="17.32" height="28.94" fill="#e6f2e5"/>
<rect x="959.05" y="1587.24" width="17.32" height="28.94" fill="#fde091"/>
<rect x="959.05" y="1616.18" width="17.32" height="28.94" fill="#fde497"/>
<rect x="959.05" y="1645.12" width="17.32" height="231.52" fill="#eef4dd"/>
<rect x="959.05" y="1876.64" width="17.32" height="28.94" fill="#e6f2e5"/>
<rect x="981.96" y="1587.24" width="17.32" height="289.4" fill="#fab371"/>
<rect x="981.96" y="1876.64" width="17.32" height="28.94" fill="#fcc67e"/>
<rect x="999.28" y="1587.24" width="17.32" height="318.34" fill="#faf5c2"/>
<rect x="1016.61" y="1587.24" width="17.32" height="28.94" fill="#98c2dd"/>
<rect x="1016.61" y="1616.18" width="17.32" height="28.94" fill="#7ca8cf"/>
<rect x="1016.61" y="1645.12" width="17.32" height="260.46" fill="#a4c9e1"/>
<rect x="1033.93" y="1587.24" width="17.32" height="28.94" fill="#fcd086"/>
<rect x="1033.93" y="1616.18" width="17.32" height="28.94" fill="#fcdc8d"/>
<rect x="1033.93" y="1645.12" width="17.32" height="260.46" fill="#faf5c2"/>
<rect x="1056.84" y="1587.24" width="17.32" height="173.64" fill="#faf5c2"/>
<rect x="1056.84" y="1760.88" width="17.32" height="28.94" fill="#eef4dd"/>
<rect x="1056.84" y="1789.82" width="17.32" height="115.76" fill="#faf5c2"/>
<rect x="1074.16" y="1587.24" width="17.32" height="318.34" fill="#faf5c2"/>
<rect x="1091.49" y="1587.24" width="17.32" height="318.34" fill="#faf5c2"/>
<rect x="1108.81" y="1587.24" width="17.32" height="318.34" fill="#faf5c2"/>
<rect x="1131.72" y="1587.24" width="17.32" height="28.94" fill="#8ebad9"/>
<rect x="1131.72" y="1616.18" width="17.32" height="28.94" fill="#76a2cd"/>
<rect x="1131.72" y="1645.12" width="17.32" height="57.88" fill="#84b0d4"/>
<rect x="1131.72" y="1703" width="17.32" height="57.88" fill="#4575b4"/>
<rect x="1131.72" y="1760.88" width="17.32" height="57.88" fill="#84b0d4"/>
<rect x="1131.72" y="1818.76" width="17.32" height="28.94" fill="#6896c6"/>
<rect x="1131.72" y="1847.7" width="17.32" height="28.94" fill="#84b0d4"/>
<rect x="1131.72" y="1876.64" width="17.32" height="28.94" fill="#73a0cb"/>
<rect x="1149.05" y="1587.24" width="17.32" height="28.94" fill="#c9e1ed"/>
<rect x="1149.05" y="1616.18" width="17.32" height="28.94" fill="#e8f3e1"/>
<rect x="1149.05" y="1645.12" width="17.32" height="28.94" fill="#c9e1ed"/>
<rect x="1149.05" y="1674.06" width="17.32" height="231.52" fill="#e8f3e1"/>
<rect x="1166.37" y="1587.24" width="17.32" height="318.34" fill="#4575b4"/>
<rect x="1183.69" y="1587.24" width="17.32" height="28.94" fill="#f1f5d7"/>
<rect x="1183.69" y="1616.18" width="17.32" height="28.94" fill="#edf4dd"/>
<rect x="1183.69" y="1645.12" width="17.32" height="260.46" fill="#b2d2e6"/>
<rect x="1206.6" y="1587.24" width="17.32" height="115.76" fill="#fce99e"/>
<rect x="1206.6" y="1703" width="17.32" height="28.94" fill="#ecf4de"/>
<rect x="1206.6" y="1731.94" width="17.32" height="28.94" fill="#eef4dd"/>
<rect x="1206.6" y="1760.88" width="17.32" height="57.88" fill="#fce99e"/>
<rect x="1206.6" y="1818.76" width="17.32" height="28.94" fill="#fde598"/>
<rect x="1206.6" y="1847.7" width="17.32" height="57.88" fill="#fce99e"/>
<rect x="1223.92" y="1587.24" width="17.32" height="28.94" fill="#d73027"/>
<rect x="1223.92" y="1616.18" width="17.32" height="28.94" fill="#faf5c2"/>
<rect x="1223.92" y="1645.12" width="17.32" height="28.94" fill="#d73027"/>
<rect x="1223.92" y="1674.06" width="17.32" height="231.52" fill="#faf5c2"/>
<rect x="1241.25" y="1587.24" width="17.32" height="144.7" fill="#faf5c2"/>
<rect x="1241.25" y="1731.94" width="17.32" height="28.94" fill="#fceba1"/>
<rect x="1241.25" y="1760.88" width="17.32" height="57.88" fill="#faf5c2"/>
<rect x="1241.25" y="1818.76" width="17.32" height="28.94" fill="#fce99f"/>
<rect x="1241.25" y="1847.7" width="17.32" height="28.94" fill="#faf5c2"/>
<rect x="1241.25" y="1876.64" width="17.32" height="28.94" fill="#fcf3b6"/>
<rect x="1258.57" y="1587.24" width="17.32" height="28.94" fill="#fcf4b9"/>
<rect x="1258.57" y="1616.18" width="17.32" height="28.94" fill="#fab171"/>
<rect x="1258.57" y="1645.12" width="17.32" height="86.82" fill="#fcf4b9"/>
<rect x="1258.57" y="1731.94" width="17.32" height="28.94" fill="#fcf2b3"/>
<rect x="1258.57" y="1760.88" width="17.32" height="28.94" fill="#fde496"/>
<rect x="1258.57" y="1789.82" width="17.32" height="28.94" fill="#f69f67"/>
<rect x="1258.57" y="1818.76" width="17.32" height="86.82" fill="#fcf4b9"/>
<rect x="1281.48" y="1587.24" width="17.32" height="28.94" fill="#fceda4"/>
<rect x="1281.48" y="1616.18" width="17.32" height="28.94" fill="#fcefaa"/>
<rect x="1281.48" y="1645.12" width="17.32" height="57.88" fill="#fceda4"/>
<rect x="1281.48" y="1703" width="17.32" height="28.94" fill="#f5f5ce"/>
<rect x="1281.48" y="1731.94" width="17.32" height="28.94" fill="#fbf4ba"/>
<rect x="1281.48" y="1760.88" width="17.32" height="57.88" fill="#fceda4"/>
<rect x="1281.48" y="1818.76" width="17.32" height="28.94" fill="#fde293"/>
<rect x="1281.48" y="1847.7" width="17.32" height="57.88" fill="#fceda4"/>
<rect x="1298.81" y="1587.24" width="17.32" height="28.94" fill="#fbba75"/>
<rect x="1298.81" y="1616.18" width="17.32" height="28.94" fill="#fcdc8d"/>
<rect x="1298.81" y="1645.12" width="17.32" height="260.46" fill="#faf5c2"/>
<rect x="1316.13" y="1587.24" width="17.32" height="318.34" fill="#faf5c2"/>
<rect x="1333.45" y="1587.24" width="17.32" height="28.94" fill="#fcd086"/>
<rect x="1333.45" y="1616.18" width="17.32" height="28.94" fill="#fcdc8d"/>
<rect x="1333.45" y="1645.12" width="17.32" height="260.46" fill="#faf5c2"/>
<rect x="1356.36" y="1587.24" width="17.32" height="28.94" fill="#fde497"/>
<rect x="1356.36" y="1616.18" width="17.32" height="28.94" fill="#fce99e"/>
<rect x="1356.36" y="1645.12" width="17.32" height="28.94" fill="#fde497"/>
<rect x="1356.36" y="1674.06" width="17.32" height="28.94" fill="#fce99e"/>
<rect x="1356.36" y="1703" width="17.32" height="28.94" fill="#e9f3e0"/>
<rect x="1356.36" y="1731.94" width="17.32" height="28.94" fill="#e7f3e4"/>
<rect x="1356.36" y="1760.88" width="17.32" height="28.94" fill="#fce99e"/>
<rect x="1356.36" y="1789.82" width="17.32" height="28.94" fill="#fddf91"/>
<rect x="1356.36" y="1818.76" width="17.32" height="28.94" fill="#fcefaa"/>
<rect x="1356.36" y="1847.7" width="17.32" height="28.94" fill="#fce99e"/>
<rect x="1356.36" y="1876.64" width="17.32" height="28.94" fill="#fcde8f"/>
<rect x="1373.69" y="1587.24" width="17.32" height="318.34" fill="#faf5c2"/>
<rect x="1391.01" y="1587.24" width="17.32" height="28.94" fill="#fceea7"/>
<rect x="1391.01" y="1616.18" width="17.32" height="28.94" fill="#faf5c2"/>
<rect x="1391.01" y="1645.12" width="17.32" height="28.94" fill="#fceea7"/>
<rect x="1391.01" y="1674.06" width="17.32" height="115.76" fill="#faf5c2"/>
<rect x="1391.01" y="1789.82" width="17.32" height="28.94" fill="#fbf4bc"/>
<rect x="1391.01" y="1818.76" width="17.32" height="86.82" fill="#faf5c2"/>
<rect x="1408.34" y="1587.24" width="17.32" height="57.88" fill="#d73027"/>
<rect x="1408.34" y="1645.12" width="17.32" height="260.46" fill="#faf5c2"/>
</g>
<g class="rl">
<text x="1435" y="108.17">AR and JUN|NFKB1</text>
<text x="1435" y="137.11">AR|ESR1|ESR2 and JUN|NFKB1</text>
<text x="1435" y="166.05">JUN|NFKB1 and KLF4</text>
<text x="1435" y="194.99">JUN|NFKB1 and TP53</text>
<text x="1435" y="223.93">ESR1 and JUN|NFKB1</text>
<text x="1435" y="252.87">JUN|NFKB1</text>
<text x="1435" y="281.81">JUN|NFKB1 and PPARA|PPARG</text>
<text x="1435" y="310.75">JUN|NFKB1 and RARA</text>
<text x="1435" y="339.69">JUN and RELA</text>
<text x="1435" y="368.63">JUN|NFKB1 and RELA</text>
<text x="1435" y="397.57">FOXM1 and JUN|NFKB1</text>
<text x="1435" y="426.51">FOXM1 and RELA</text>
<text x="1435" y="461.25">FOXM1 and JUN</text>
<text x="1435" y="490.19">AR and JUN</text>
<text x="1435" y="519.13">JUN and KLF4</text>
<text x="1435" y="548.07">JUN and TP53</text>
<text x="1435" y="577.01">JUN and RARA</text>
<text x="1435" y="605.95">JUN</text>
<text x="1435" y="634.89">JUN and PPARA|PPARG</text>
<text x="1435" y="669.63">AR and RELA</text>
<text x="1435" y="698.57">AR|ESR1|ESR2 and RELA</text>
<text x="1435" y="727.51">KLF4 and RELA</text>
<text x="1435" y="756.45">RELA and TP53</text>
<text x="1435" y="785.39">RARA and RELA</text>
<text x="1435" y="814.33">ESR1 and RELA</text>
<text x="1435" y="843.27">RELA</text>
<text x="1435" y="872.21">PPARA|PPARG and RELA</text>
<text x="1435" y="901.15">ESR1 and TP53</text>
<text x="1435" y="930.09">ESR1 and KLF4</text>
<text x="1435" y="959.03">ESR1 and RARA</text>
<text x="1435" y="987.97">AR and FOXM1</text>
<text x="1435" y="1016.91">AR|ESR1|ESR2 and FOXM1</text>
<text x="1435" y="1045.85">FOXM1 and KLF4</text>
<text x="1435" y="1074.79">FOXM1 and TP53</text>
<text x="1435" y="1103.73">FOXM1 and RARA</text>
<text x="1435" y="1132.67">ESR1 and FOXM1</text>
<text x="1435" y="1161.61">FOXM1</text>
<text x="1435" y="1190.55">FOXM1 and PPARA|PPARG</text>
<text x="1435" y="1225.29">HIF1A and JUN|NFKB1</text>
<text x="1435" y="1254.23">HIF1A and RELA</text>
<text x="1435" y="1283.17">HIF1A and JUN</text>
<text x="1435" y="1312.11">FOXM1 and HIF1A</text>
<text x="1435" y="1341.05">AR and HIF1A</text>
<text x="1435" y="1369.99">AR|ESR1|ESR2 and HIF1A</text>
<text x="1435" y="1398.93">HIF1A and PPARG|STAT3</text>
<text x="1435" y="1427.87">HIF1A and KLF4</text>
<text x="1435" y="1456.81">HIF1A and RARA</text>
<text x="1435" y="1485.75">ESR1 and HIF1A</text>
<text x="1435" y="1514.69">HIF1A and TP53</text>
<text x="1435" y="1543.63">HIF1A</text>
<text x="1435" y="1572.57">HIF1A and PPARA|PPARG</text>
<text x="1435" y="1607.31">JUN|NFKB1 and PPARG|STAT3</text>
<text x="1435" y="1636.25">PPARG|STAT3 and RELA</text>
<text x="1435" y="1665.19">JUN and PPARG|STAT3</text>
<text x="1435" y="1694.13">FOXM1 and PPARG|STAT3</text>
<text x="1435" y="1723.07">AR and PPARG|STAT3</text>
<text x="1435" y="1752.01">AR|ESR1|ESR2 and PPARG|STAT3</text>
<text x="1435" y="1780.95">KLF4 and PPARG|STAT3</text>
<text x="1435" y="1809.89">PPARG|STAT3 and RARA</text>
<text x="1435" y="1838.83">ESR1 and PPARG|STAT3</text>
<text x="1435" y="1867.77">PPARG|STAT3</text>
<text x="1435" y="1896.71">PPARG|STAT3 and TP53</text>
</g>
<g class="cl">
<text transform="translate(86.41 1913.6) rotate(90)">SLC2A1_malig</text>
<text transform="translate(103.74 1913.6) rotate(90)">SLC2A1_tcell</text>
<text transform="translate(121.06 1913.6) rotate(90)">SLC2A1_macro</text>
<text transform="translate(138.39 1913.6) rotate(90)">SLC2A1_oligo</text>
<text transform="translate(161.29 1913.6) rotate(90)">HK1_malig</text>
<text transform="translate(178.62 1913.6) rotate(90)">HK1_tcell</text>
<text transform="translate(195.94 1913.6) rotate(90)">HK1_macro</text>
<text transform="translate(213.27 1913.6) rotate(90)">HK1_oligo</text>
<text transform="translate(236.17 1913.6) rotate(90)">HK2_malig</text>
<text transform="translate(253.5 1913.6) rotate(90)">HK2_tcell</text>
<text transform="translate(270.82 1913.6) rotate(90)">HK2_macro</text>
<text transform="translate(288.15 1913.6) rotate(90)">HK2_oligo</text>
<text transform="translate(311.05 1913.6) rotate(90)">HK3_malig</text>
<text transform="translate(328.38 1913.6) rotate(90)">HK3_tcell</text>
<text transform="translate(345.7 1913.6) rotate(90)">HK3_macro</text>
<text transform="translate(363.03 1913.6) rotate(90)">HK3_oligo</text>
<text transform="translate(385.93 1913.6) rotate(90)">PFKL_malig</text>
<text transform="translate(403.26 1913.6) rotate(90)">PFKL_tcell</text>
<text transform="translate(420.58 1913.6) rotate(90)">PFKL_macro</text>
<text transform="translate(437.91 1913.6) rotate(90)">PFKL_oligo</text>
<text transform="translate(460.81 1913.6) rotate(90)">PFKM_malig</text>
<text transform="translate(478.14 1913.6) rotate(90)">PFKM_tcell</text>
<text transform="translate(495.46 1913.6) rotate(90)">PFKM_macro</text>
<text transform="translate(512.79 1913.6) rotate(90)">PFKM_oligo</text>
<text transform="translate(535.69 1913.6) rotate(90)">PFKP_malig</text>
<text transform="translate(553.02 1913.6) rotate(90)">PFKP_tcell</text>
<text transform="translate(570.34 1913.6) rotate(90)">PFKP_macro</text>
<text transform="translate(587.67 1913.6) rotate(90)">PFKP_oligo</text>
<text transform="translate(610.57 1913.6) rotate(90)">ALDOA_malig</text>
<text transform="translate(627.9 1913.6) rotate(90)">ALDOA_tcell</text>
<text transform="translate(645.22 1913.6) rotate(90)">ALDOA_macro</text>
<text transform="translate(662.55 1913.6) rotate(90)">ALDOA_oligo</text>
<text transform="translate(685.45 1913.6) rotate(90)">ALDOC_malig</text>
<text transform="translate(702.78 1913.6) rotate(90)">ALDOC_tcell</text>
<text transform="translate(720.1 1913.6) rotate(90)">ALDOC_macro</text>
<text transform="translate(737.43 1913.6) rotate(90)">ALDOC_oligo</text>
<text transform="translate(760.33 1913.6) rotate(90)">GAPDH_malig</text>
<text transform="translate(777.66 1913.6) rotate(90)">GAPDH_tcell</text>
<text transform="translate(794.98 1913.6) rotate(90)">GAPDH_macro</text>
<text transform="translate(812.31 1913.6) rotate(90)">GAPDH_oligo</text>
<text transform="translate(835.21 1913.6) rotate(90)">PGK1_malig</text>
<text transform="translate(852.54 1913.6) rotate(90)">PGK1_tcell</text>
<text transform="translate(869.86 1913.6) rotate(90)">PGK1_macro</text>
<text transform="translate(887.19 1913.6) rotate(90)">PGK1_oligo</text>
<text transform="translate(910.09 1913.6) rotate(90)">ENO1_malig</text>
<text transform="translate(927.42 1913.6) rotate(90)">ENO1_tcell</text>
<text transform="translate(944.74 1913.6) rotate(90)">ENO1_macro</text>
<text transform="translate(962.07 1913.6) rotate(90)">ENO1_oligo</text>
<text transform="translate(984.97 1913.6) rotate(90)">ENO2_malig</text>
<text transform="translate(1002.3 1913.6) rotate(90)">ENO2_tcell</text>
<text transform="translate(1019.62 1913.6) rotate(90)">ENO2_macro</text>
<text transform="translate(1036.95 1913.6) rotate(90)">ENO2_oligo</text>
<text transform="translate(1059.85 1913.6) rotate(90)">ENO3_malig</text>
<text transform="translate(1077.18 1913.6) rotate(90)">ENO3_tcell</text>
<text transform="translate(1094.5 1913.6) rotate(90)">ENO3_macro</text>
<text transform="translate(1111.83 1913.6) rotate(90)">ENO3_oligo</text>
<text transform="translate(1134.73 1913.6) rotate(90)">LDHA_malig</text>
<text transform="translate(1152.06 1913.6) rotate(90)">LDHA_tcell</text>
<text transform="translate(1169.38 1913.6) rotate(90)">LDHA_macro</text>
<text transform="translate(1186.71 1913.6) rotate(90)">LDHA_oligo</text>
<text transform="translate(1209.61 1913.6) rotate(90)">LDHB_malig</text>
<text transform="translate(1226.94 1913.6) rotate(90)">LDHB_tcell</text>
<text transform="translate(1244.26 1913.6) rotate(90)">LDHB_macro</text>
<text transform="translate(1261.59 1913.6) rotate(90)">LDHB_oligo</text>
<text transform="translate(1284.49 1913.6) rotate(90)">PDHA1_malig</text>
<text transform="translate(1301.82 1913.6) rotate(90)">PDHA1_tcell</text>
<text transform="translate(1319.14 1913.6) rotate(90)">PDHA1_macro</text>
<text transform="translate(1336.47 1913.6) rotate(90)">PDHA1_oligo</text>
<text transform="translate(1359.37 1913.6) rotate(90)">PDHB_malig</text>
<text transform="translate(1376.7 1913.6) rotate(90)">PDHB_tcell</text>
<text transform="translate(1394.02 1913.6) rotate(90)">PDHB_macro</text>
<text transform="translate(1411.35 1913.6) rotate(90)">PDHB_oligo</text>
</g>
<path class="dg" d="M83.4 102.57H78.8V131.51H83.4M83.4 247.27H82.3V276.21H83.4M83.4 218.33H77.9V261.74H82.3M83.4 334.09H79.8V363.03H83.4M83.4 305.15H76.5V348.56H79.8M77.9 240.04H74.3V326.86H76.5M83.4 189.39H72.8V283.45H74.3M83.4 160.45H69.2V236.42H72.8M78.8 117.04H64.3V198.43H69.2M83.4 391.97H61.9V420.91H83.4M64.3 157.74H54.3V406.44H61.9M83.4 600.35H82.3V629.29H83.4M83.4 571.41H76.8V614.82H82.3M83.4 542.47H71V593.12H76.8M83.4 513.53H68.5V567.79H71M83.4 484.59H64.6V540.66H68.5M83.4 455.65H61.9V512.63H64.6M83.4 664.03H78.7V692.97H83.4M83.4 837.67H82.3V866.61H83.4M83.4 808.73H77.4V852.14H82.3M83.4 779.79H73.7V830.44H77.4M83.4 750.85H71.6V805.11H73.7M83.4 721.91H70.1V777.98H71.6M78.7 678.5H64.6V749.95H70.1M83.4 924.49H71.9V953.43H83.4M83.4 895.55H68.8V938.96H71.9M83.4 982.37H78.3V1011.31H83.4M83.4 1156.01H82.3V1184.95H83.4M83.4 1127.07H77.4V1170.48H82.3M83.4 1098.13H73.7V1148.78H77.4M83.4 1069.19H70.6V1123.45H73.7M83.4 1040.25H69.2V1096.32H70.6M78.3 996.84H64.3V1068.29H69.2M68.8 917.26H61V1032.56H64.3M64.6 714.22H51.9V974.91H61M61.9 484.14H47V844.57H51.9M54.3 282.09H43.2V667H47M83.4 1219.69H64.6V1248.63H83.4M83.4 1335.45H78.7V1364.39H83.4M83.4 1538.03H82.6V1566.97H83.4M83.4 1509.09H78.8V1552.5H82.6M83.4 1480.15H76.5V1530.8H78.8M83.4 1451.21H74.7V1505.47H76.5M83.4 1422.27H72.8V1478.34H74.7M83.4 1393.33H69.7V1450.31H72.8M78.7 1349.92H65V1421.82H69.7M83.4 1306.51H63.2V1385.87H65M83.4 1277.57H60.6V1346.19H63.2M64.6 1234.16H51V1311.88H60.6M83.4 1601.71H64.3V1630.65H83.4M83.4 1717.47H80.5V1746.41H83.4M83.4 1862.17H80.7V1891.11H83.4M83.4 1833.23H79.2V1876.64H80.7M83.4 1804.29H76.1V1854.93H79.2M83.4 1775.35H73.2V1829.61H76.1M80.5 1731.94H67.7V1802.48H73.2M83.4 1688.53H63.7V1767.21H67.7M83.4 1659.59H61V1727.87H63.7M64.3 1616.18H50.4V1693.73H61M51 1273.02H30V1654.96H50.4M43.2 474.6H3.9V1460.8H30"/>
<path class="bk" stroke="#e5007f" stroke-width="2.0" d="M1460.1 77.2H1694.7L1699.6 429.8M1702.3 432H1467"/>
<path class="bk" stroke="#3651a4" stroke-width="2.0" d="M1464.9 437.7H1700.2L1704.3 638.9M1705.2 638.9H1469.1"/>
<path class="bk" stroke="#066b33" stroke-width="2.0" d="M1464.9 648.1H1702L1709.3 1196.9M1710.9 1196.9H1476"/>
<path class="bk" stroke="#4d3e3b" stroke-width="2.5" d="M1472.2 1206.3H1706.2L1708.9 1578.1M1709.8 1578.1H1473.3"/>
<path class="bk" stroke="#ee3124" stroke-width="2.0" d="M1474.2 1585.5H1708.3L1710 1906.5M1710.9 1906.5H1475"/>
<g class="cls">
<text x="1727.3" y="247.4" style="fill:#e5007f;stroke:#e5007f">A</text>
<text x="1737.4" y="556.8" style="fill:#3651a4;stroke:#3651a4">B</text>
<text x="1740.0" y="894.8" style="fill:#066b33;stroke:#066b33">C</text>
<text x="1745.9" y="1393" style="fill:#4d3e3b;stroke:#4d3e3b">D</text>
<text x="1747.0" y="1771.9" style="fill:#ee3124;stroke:#ee3124">E</text>
</g>
<defs><linearGradient id="lg" x1="0" x2="1" y1="0" y2="0">
<stop offset="0" stop-color="#4575b4"/>
<stop offset="0.04" stop-color="#5a88bf"/>
<stop offset="0.08" stop-color="#6b99c8"/>
<stop offset="0.12" stop-color="#7ca8cf"/>
<stop offset="0.17" stop-color="#91bddb"/>
<stop offset="0.21" stop-color="#a8cce2"/>
<stop offset="0.25" stop-color="#c0dbea"/>
<stop offset="0.29" stop-color="#d2e7ee"/>
<stop offset="0.33" stop-color="#e1f1ef"/>
<stop offset="0.38" stop-color="#e7f3e3"/>
<stop offset="0.42" stop-color="#eef4dd"/>
<stop offset="0.46" stop-color="#f4f5cf"/>
<stop offset="0.5" stop-color="#faf5c2"/>
<stop offset="0.54" stop-color="#fcf2b3"/>
<stop offset="0.58" stop-color="#fceda4"/>
<stop offset="0.62" stop-color="#fde497"/>
<stop offset="0.67" stop-color="#fcdc8d"/>
<stop offset="0.71" stop-color="#fccc83"/>
<stop offset="0.75" stop-color="#fbb672"/>
<stop offset="0.79" stop-color="#f7a56b"/>
<stop offset="0.83" stop-color="#f5915d"/>
<stop offset="0.88" stop-color="#ef7852"/>
<stop offset="0.92" stop-color="#ea6445"/>
<stop offset="0.96" stop-color="#e24c36"/>
<stop offset="1" stop-color="#d73027"/>
</linearGradient></defs>
<rect x="1488.7" y="1953.1" width="304.2" height="20.1" fill="url(#lg)"/>
<g class="lg">
<text class="lt" x="1492.2" y="1943.8">Predicted enzyme fold-change</text>
<text x="1488.2" y="1996.2">0.7</text>
<text x="1557" y="1996.2">0.85</text>
<text x="1638.3" y="1996.2">1</text>
<text x="1692.8" y="1996.2">1.15</text>
<text x="1767.4" y="1996.2">1.3</text>
</g>
</svg></body></html>
